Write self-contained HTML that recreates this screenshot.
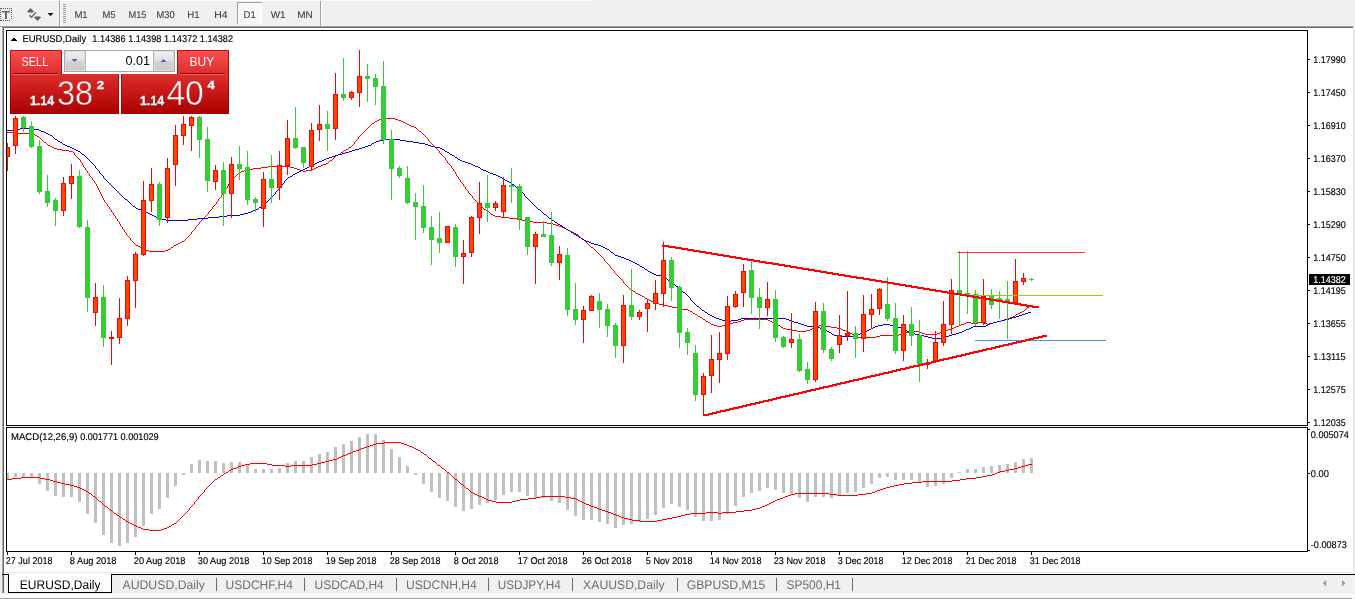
<!DOCTYPE html>
<html lang="en">
<head>
<meta charset="utf-8">
<title>EURUSD,Daily</title>
<style>
html,body{margin:0;padding:0;}
body{width:1355px;height:599px;overflow:hidden;background:#f0f0f0;font-family:"Liberation Sans", sans-serif;position:relative;}
#toolbar{position:absolute;left:0;top:0;width:1355px;height:28px;background:#f0f0f0;}
#toolbar svg,#tabs svg,#chartwrap svg{display:block;position:absolute;left:0;top:0;}
#chartwrap{position:absolute;left:0;top:0;width:1355px;height:599px;}
#white{position:absolute;left:4px;top:28px;width:1349px;height:546px;background:#fff;}
#lbar0{position:absolute;left:1px;top:28px;width:1px;height:565px;background:#f8f8f8;}
#lbar1{position:absolute;left:2px;top:27px;width:1px;height:547px;background:#a4a4a4;}
#lbar2{position:absolute;left:3px;top:27px;width:1px;height:547px;background:#696969;}
#rbar{position:absolute;left:1353px;top:27px;width:1px;height:546px;background:#e3e3e3;}
#tabs{position:absolute;left:0;top:572px;width:1355px;height:27px;}
</style>
</head>
<body>
<div id="toolbar">
<svg id="tbsvg" width="1355" height="28" viewBox="0 0 1355 28" font-family='"Liberation Sans", sans-serif' shape-rendering="crispEdges">
<rect x="0" y="0" width="594" height="1" fill="#fff"/>
<rect x="3" y="8" width="1" height="1" fill="#5a5a5a"/><rect x="5" y="8" width="1" height="1" fill="#5a5a5a"/><rect x="7" y="8" width="1" height="1" fill="#5a5a5a"/><rect x="9" y="8" width="1" height="1" fill="#5a5a5a"/><rect x="11" y="8" width="1" height="1" fill="#5a5a5a"/><rect x="11" y="10" width="1" height="1" fill="#5a5a5a"/><rect x="11" y="12" width="1" height="1" fill="#5a5a5a"/><rect x="11" y="14" width="1" height="1" fill="#5a5a5a"/><rect x="11" y="16" width="1" height="1" fill="#5a5a5a"/><rect x="11" y="18" width="1" height="1" fill="#5a5a5a"/><rect x="1" y="20" width="1" height="1" fill="#5a5a5a"/><rect x="3" y="20" width="1" height="1" fill="#5a5a5a"/><rect x="5" y="20" width="1" height="1" fill="#5a5a5a"/><rect x="7" y="20" width="1" height="1" fill="#5a5a5a"/><rect x="9" y="20" width="1" height="1" fill="#5a5a5a"/><rect x="0" y="10" width="1" height="1" fill="#5a5a5a"/><rect x="0" y="12" width="1" height="1" fill="#5a5a5a"/><rect x="0" y="14" width="1" height="1" fill="#5a5a5a"/><rect x="0" y="16" width="1" height="1" fill="#5a5a5a"/><rect x="0" y="18" width="1" height="1" fill="#5a5a5a"/><rect x="0" y="20" width="1" height="1" fill="#5a5a5a"/>
<rect x="2" y="11" width="8" height="1" fill="#646464"/><rect x="2" y="12" width="8" height="1" fill="#a8a8a8"/>
<rect x="5" y="12" width="2" height="7" fill="#646464"/>
<path d="M0 8 L1.5 8 L1.5 9 L0 9 Z" fill="#5a5a5a"/>
<g fill="#606060" shape-rendering="geometricPrecision">
<path d="M27 11.8 L30.5 8 L34 11.8 L32.6 12.6 L28.4 12.6 Z"/>
<path d="M34 17.2 L37.5 21 L41 17.2 L39.6 16.4 L35.4 16.4 Z"/>
<path d="M29.3 15.2 L31.5 17.4 L35.8 12.4" fill="none" stroke="#585858" stroke-width="1.3"/>
</g>
<path d="M47.5 13 L53.5 13 L50.5 16 Z" fill="#000" shape-rendering="geometricPrecision"/>
<rect x="59" y="1" width="1" height="25" fill="#a0a0a0"/>
<rect x="60" y="1" width="1" height="25" fill="#fff"/>
<rect x="63" y="4" width="3" height="1" fill="#a0a0a0"/><rect x="63" y="6" width="3" height="1" fill="#a0a0a0"/><rect x="63" y="8" width="3" height="1" fill="#a0a0a0"/><rect x="63" y="10" width="3" height="1" fill="#a0a0a0"/><rect x="63" y="12" width="3" height="1" fill="#a0a0a0"/><rect x="63" y="14" width="3" height="1" fill="#a0a0a0"/><rect x="63" y="16" width="3" height="1" fill="#a0a0a0"/><rect x="63" y="18" width="3" height="1" fill="#a0a0a0"/><rect x="63" y="20" width="3" height="1" fill="#a0a0a0"/><rect x="63" y="22" width="3" height="1" fill="#a0a0a0"/>
<rect x="237" y="2" width="25" height="22" fill="#f8f8f8"/>
<rect x="237" y="2" width="25" height="1" fill="#a0a0a0"/>
<rect x="237" y="2" width="1" height="22" fill="#a0a0a0"/>
<rect x="261" y="3" width="1" height="21" fill="#fff"/>
<rect x="238" y="23" width="24" height="1" fill="#fff"/>
<rect x="320" y="1" width="1" height="25" fill="#a0a0a0"/>
<rect x="321" y="1" width="1" height="25" fill="#fff"/>
<text x="74.4" y="18" font-size="9.9" fill="#3a3a3a" text-rendering="geometricPrecision" textLength="13.3" lengthAdjust="spacingAndGlyphs" stroke="#3a3a3a" stroke-width="0.08">M1</text><text x="102.5" y="18" font-size="9.9" fill="#3a3a3a" text-rendering="geometricPrecision" textLength="13.1" lengthAdjust="spacingAndGlyphs" stroke="#3a3a3a" stroke-width="0.08">M5</text><text x="128.4" y="18" font-size="9.9" fill="#3a3a3a" text-rendering="geometricPrecision" textLength="18.1" lengthAdjust="spacingAndGlyphs" stroke="#3a3a3a" stroke-width="0.08">M15</text><text x="156.5" y="18" font-size="9.9" fill="#3a3a3a" text-rendering="geometricPrecision" textLength="18.1" lengthAdjust="spacingAndGlyphs" stroke="#3a3a3a" stroke-width="0.08">M30</text><text x="187.3" y="18" font-size="9.9" fill="#3a3a3a" text-rendering="geometricPrecision" textLength="12.3" lengthAdjust="spacingAndGlyphs" stroke="#3a3a3a" stroke-width="0.08">H1</text><text x="214.2" y="18" font-size="9.9" fill="#3a3a3a" text-rendering="geometricPrecision" textLength="13.3" lengthAdjust="spacingAndGlyphs" stroke="#3a3a3a" stroke-width="0.08">H4</text><text x="243.5" y="18" font-size="9.9" fill="#3a3a3a" text-rendering="geometricPrecision" textLength="12.2" lengthAdjust="spacingAndGlyphs" stroke="#3a3a3a" stroke-width="0.08">D1</text><text x="270.7" y="18" font-size="9.9" fill="#3a3a3a" text-rendering="geometricPrecision" textLength="14.9" lengthAdjust="spacingAndGlyphs" stroke="#3a3a3a" stroke-width="0.08">W1</text><text x="297.2" y="18" font-size="9.9" fill="#3a3a3a" text-rendering="geometricPrecision" textLength="15.5" lengthAdjust="spacingAndGlyphs" stroke="#3a3a3a" stroke-width="0.08">MN</text>
<rect x="0" y="26" width="1353" height="1" fill="#a0a0a0"/>
<rect x="0" y="27" width="2" height="1" fill="#fff"/>
<rect x="2" y="27" width="1351" height="1" fill="#696969"/>
</svg>
</div>
<div id="chartwrap">
<div id="white"></div><div id="lbar0"></div><div id="lbar1"></div><div id="lbar2"></div><div id="rbar"></div>
<svg id="chart" width="1355" height="599" viewBox="0 0 1355 599" font-family='"Liberation Sans", sans-serif' shape-rendering="crispEdges">
<defs><clipPath id="mainclip"><rect x="7" y="31" width="1300" height="394"/></clipPath></defs>
<g id="ma" clip-path="url(#mainclip)">
<path d="M7 132v1M8 132v1M9 132v1M10 132v1M11 132v1M12 132v1M13 133v1M14 133v1M15 133v1M16 133v1M17 133v1M18 133v1M19 133v1M20 133v1M21 133v1M22 133v1M23 133v1M24 133v1M25 133v1M26 133v1M27 133v1M28 133v1M29 133v1M30 133v1M31 133v1M32 134v1M33 134v1M34 134v1M35 135v1M36 135v1M37 136v1M38 136v1M39 137v1M40 138v1M41 139v1M42 140v1M43 141v1M44 142v1M45 142v1M46 143v1M47 144v1M48 145v1M49 145v1M50 146v1M51 146v1M52 147v1M53 147v1M54 148v1M55 148v1M56 148v1M57 149v1M58 149v1M59 149v1M60 149v1M61 149v1M62 150v1M63 150v1M64 150v1M65 150v1M66 150v1M67 150v1M68 150v1M69 151v1M70 151v1M71 151v1M72 151v1M73 152v1M74 153v2M75 155v1M76 156v1M77 157v1M78 158v1M79 159v1M80 160v2M81 162v1M82 163v2M83 165v2M84 167v1M85 168v2M86 170v1M87 171v2M88 173v1M89 174v2M90 176v1M91 177v1M92 178v2M93 180v1M94 181v2M95 183v1M96 184v2M97 186v2M98 188v2M99 190v2M100 192v2M101 194v2M102 196v2M103 198v2M104 200v2M105 202v1M106 203v1M107 204v2M108 206v1M109 207v2M110 209v1M111 210v2M112 212v1M113 213v2M114 215v1M115 216v2M116 218v1M117 219v2M118 221v1M119 222v2M120 224v2M121 226v1M122 227v2M123 229v1M124 230v2M125 232v1M126 233v2M127 235v1M128 236v1M129 237v1M130 238v2M131 240v1M132 241v1M133 242v1M134 243v1M135 244v1M136 245v1M137 245v1M138 246v1M139 246v1M140 247v1M141 248v1M142 248v1M143 249v1M144 249v1M145 249v1M146 250v1M147 250v1M148 250v1M149 251v1M150 251v1M151 251v1M152 251v1M153 251v1M154 251v1M155 251v1M156 251v1M157 251v1M158 251v1M159 251v1M160 251v1M161 251v1M162 251v1M163 251v1M164 251v1M165 250v1M166 250v1M167 250v1M168 249v1M169 249v1M170 248v1M171 247v1M172 247v1M173 246v1M174 245v1M175 245v1M176 244v1M177 244v1M178 243v1M179 243v1M180 242v1M181 242v1M182 241v1M183 241v1M184 240v1M185 239v1M186 238v1M187 237v1M188 236v1M189 235v1M190 234v1M191 232v2M192 231v1M193 230v1M194 229v1M195 227v2M196 226v1M197 225v1M198 224v1M199 222v2M200 221v1M201 220v1M202 219v1M203 218v1M204 217v1M205 216v1M206 215v1M207 214v1M208 212v2M209 211v1M210 210v1M211 209v1M212 207v2M213 206v1M214 205v1M215 204v1M216 202v2M217 201v1M218 199v2M219 198v1M220 197v1M221 195v2M222 194v1M223 192v2M224 191v1M225 189v2M226 188v1M227 186v2M228 184v2M229 183v1M230 181v2M231 180v1M232 179v1M233 178v1M234 177v1M235 176v1M236 175v1M237 174v1M238 173v1M239 172v1M240 172v1M241 171v1M242 171v1M243 171v1M244 170v1M245 170v1M246 170v1M247 169v1M248 169v1M249 169v1M250 169v1M251 169v1M252 169v1M253 168v1M254 168v1M255 168v1M256 168v1M257 168v1M258 168v1M259 168v1M260 168v1M261 167v1M262 167v1M263 167v1M264 167v1M265 167v1M266 167v1M267 167v1M268 166v1M269 166v1M270 166v1M271 166v1M272 166v1M273 166v1M274 166v1M275 166v1M276 166v1M277 166v1M278 166v1M279 166v1M280 166v1M281 166v1M282 166v1M283 166v1M284 166v1M285 166v1M286 166v1M287 166v1M288 166v1M289 166v1M290 167v1M291 167v1M292 167v1M293 167v1M294 168v1M295 168v1M296 168v1M297 169v1M298 169v1M299 169v1M300 170v1M301 170v1M302 170v1M303 171v1M304 171v1M305 171v1M306 170v1M307 170v1M308 170v1M309 170v1M310 170v1M311 170v1M312 169v1M313 169v1M314 168v1M315 168v1M316 167v1M317 167v1M318 166v1M319 166v1M320 166v1M321 165v1M322 165v1M323 164v1M324 164v1M325 164v1M326 163v1M327 163v1M328 162v1M329 161v1M330 160v1M331 160v1M332 159v1M333 158v1M334 157v1M335 156v1M336 155v1M337 155v1M338 154v1M339 154v1M340 153v1M341 152v1M342 152v1M343 151v1M344 150v1M345 150v1M346 149v1M347 149v1M348 148v1M349 147v1M350 147v1M351 146v1M352 145v1M353 144v1M354 142v2M355 141v1M356 140v1M357 139v1M358 137v2M359 136v1M360 135v1M361 134v1M362 133v1M363 132v1M364 131v1M365 130v1M366 129v1M367 128v1M368 127v1M369 126v1M370 125v1M371 124v1M372 123v1M373 123v1M374 122v1M375 121v1M376 121v1M377 120v1M378 120v1M379 119v1M380 119v1M381 119v1M382 118v1M383 118v1M384 118v1M385 118v1M386 118v1M387 118v1M388 118v1M389 118v1M390 118v1M391 118v1M392 118v1M393 118v1M394 118v1M395 119v1M396 119v1M397 119v1M398 120v1M399 120v1M400 120v1M401 121v1M402 121v1M403 122v1M404 122v1M405 123v1M406 123v1M407 124v1M408 124v1M409 125v1M410 125v1M411 126v1M412 126v1M413 126v1M414 127v1M415 127v1M416 128v1M417 129v1M418 130v1M419 131v1M420 131v1M421 132v1M422 133v1M423 134v1M424 135v1M425 136v1M426 137v1M427 138v1M428 139v2M429 141v1M430 142v1M431 143v1M432 144v1M433 145v1M434 146v1M435 147v1M436 148v1M437 149v1M438 150v1M439 151v2M440 153v1M441 154v1M442 155v1M443 156v1M444 157v1M445 158v2M446 160v1M447 161v2M448 163v1M449 164v1M450 165v1M451 166v2M452 168v1M453 169v2M454 171v1M455 172v2M456 174v2M457 176v1M458 177v2M459 179v1M460 180v2M461 182v1M462 183v1M463 184v2M464 186v1M465 187v2M466 189v1M467 190v1M468 191v2M469 193v1M470 194v1M471 195v1M472 196v2M473 198v1M474 199v1M475 200v1M476 201v1M477 202v1M478 203v1M479 204v1M480 205v1M481 206v1M482 207v1M483 208v1M484 209v1M485 209v1M486 210v1M487 211v1M488 211v1M489 212v1M490 213v1M491 214v1M492 214v1M493 215v1M494 215v1M495 216v1M496 216v1M497 216v1M498 216v1M499 216v1M500 216v1M501 217v1M502 217v1M503 217v1M504 217v1M505 217v1M506 217v1M507 217v1M508 217v1M509 218v1M510 218v1M511 218v1M512 218v1M513 218v1M514 218v1M515 218v1M516 218v1M517 219v1M518 219v1M519 219v1M520 219v1M521 219v1M522 220v1M523 220v1M524 220v1M525 220v1M526 220v1M527 221v1M528 221v1M529 221v1M530 221v1M531 221v1M532 221v1M533 222v1M534 222v1M535 222v1M536 222v1M537 222v1M538 222v1M539 222v1M540 222v1M541 222v1M542 222v1M543 222v1M544 222v1M545 222v1M546 222v1M547 223v1M548 223v1M549 223v1M550 223v1M551 223v1M552 223v1M553 224v1M554 224v1M555 224v1M556 225v1M557 225v1M558 225v1M559 226v1M560 226v1M561 226v1M562 227v1M563 227v1M564 228v1M565 228v1M566 229v1M567 229v1M568 230v1M569 230v1M570 231v1M571 231v1M572 232v1M573 232v1M574 233v1M575 233v1M576 234v1M577 234v1M578 235v1M579 236v1M580 237v1M581 238v1M582 238v1M583 239v1M584 240v1M585 241v1M586 242v1M587 243v1M588 244v1M589 245v1M590 246v1M591 247v1M592 247v1M593 248v1M594 249v1M595 250v1M596 251v1M597 252v1M598 253v1M599 254v1M600 255v1M601 256v1M602 257v1M603 258v1M604 259v2M605 261v1M606 262v1M607 263v1M608 264v1M609 265v1M610 266v2M611 268v1M612 269v1M613 270v1M614 271v2M615 273v1M616 274v1M617 275v1M618 276v1M619 277v1M620 278v1M621 279v1M622 280v1M623 281v2M624 283v1M625 284v1M626 285v1M627 286v1M628 287v1M629 288v1M630 289v1M631 290v1M632 290v1M633 291v1M634 291v1M635 292v1M636 293v1M637 293v1M638 294v1M639 294v1M640 295v1M641 295v1M642 296v1M643 296v1M644 297v1M645 298v1M646 298v1M647 299v1M648 299v1M649 300v1M650 300v1M651 301v1M652 301v1M653 302v1M654 302v1M655 303v1M656 303v1M657 303v1M658 303v1M659 304v1M660 304v1M661 304v1M662 304v1M663 304v1M664 305v1M665 305v1M666 305v1M667 305v1M668 306v1M669 306v1M670 306v1M671 306v1M672 307v1M673 307v1M674 307v1M675 307v1M676 307v1M677 308v1M678 308v1M679 308v1M680 308v1M681 308v1M682 309v1M683 309v1M684 309v1M685 309v1M686 309v1M687 309v1M688 310v1M689 310v1M690 311v1M691 311v1M692 312v1M693 313v1M694 313v1M695 314v1M696 314v1M697 315v1M698 316v1M699 316v1M700 317v1M701 317v1M702 318v1M703 319v1M704 319v1M705 320v1M706 321v1M707 321v1M708 322v1M709 322v1M710 323v1M711 324v1M712 324v1M713 324v1M714 325v1M715 325v1M716 325v1M717 326v1M718 326v1M719 326v1M720 326v1M721 326v1M722 325v1M723 325v1M724 325v1M725 324v1M726 324v1M727 323v1M728 323v1M729 323v1M730 323v1M731 323v1M732 323v1M733 322v1M734 322v1M735 322v1M736 322v1M737 322v1M738 321v1M739 321v1M740 321v1M741 320v1M742 320v1M743 320v1M744 319v1M745 319v1M746 319v1M747 319v1M748 319v1M749 319v1M750 319v1M751 319v1M752 319v1M753 319v1M754 319v1M755 319v1M756 319v1M757 319v1M758 319v1M759 319v1M760 319v1M761 319v1M762 319v1M763 319v1M764 319v1M765 319v1M766 319v1M767 319v1M768 320v1M769 320v1M770 321v1M771 321v1M772 322v1M773 322v1M774 323v1M775 323v1M776 324v1M777 324v1M778 325v1M779 325v1M780 326v1M781 327v1M782 327v1M783 328v1M784 328v1M785 328v1M786 329v1M787 329v1M788 329v1M789 329v1M790 329v1M791 329v1M792 330v1M793 330v1M794 330v1M795 330v1M796 330v1M797 331v1M798 331v1M799 331v1M800 331v1M801 331v1M802 331v1M803 331v1M804 331v1M805 331v1M806 330v1M807 330v1M808 330v1M809 330v1M810 329v1M811 329v1M812 328v1M813 328v1M814 328v1M815 327v1M816 327v1M817 326v1M818 326v1M819 325v1M820 325v1M821 325v1M822 325v1M823 325v1M824 325v1M825 326v1M826 326v1M827 326v1M828 326v1M829 326v1M830 326v1M831 327v1M832 327v1M833 327v1M834 327v1M835 327v1M836 327v1M837 328v1M838 328v1M839 328v1M840 328v1M841 329v1M842 329v1M843 330v1M844 330v1M845 330v1M846 331v1M847 331v1M848 332v1M849 332v1M850 333v1M851 333v1M852 334v1M853 334v1M854 335v1M855 335v1M856 336v1M857 336v1M858 337v1M859 337v1M860 337v1M861 338v1M862 338v1M863 338v1M864 338v1M865 338v1M866 337v1M867 337v1M868 337v1M869 337v1M870 337v1M871 337v1M872 337v1M873 337v1M874 337v1M875 337v1M876 336v1M877 336v1M878 336v1M879 336v1M880 335v1M881 335v1M882 335v1M883 335v1M884 335v1M885 335v1M886 335v1M887 335v1M888 335v1M889 335v1M890 335v1M891 335v1M892 335v1M893 335v1M894 335v1M895 335v1M896 335v1M897 335v1M898 335v1M899 334v1M900 334v1M901 334v1M902 333v1M903 333v1M904 333v1M905 332v1M906 332v1M907 332v1M908 332v1M909 332v1M910 332v1M911 332v1M912 331v1M913 331v1M914 331v1M915 331v1M916 331v1M917 331v1M918 331v1M919 332v1M920 332v1M921 332v1M922 333v1M923 333v1M924 333v1M925 334v1M926 334v1M927 334v1M928 334v1M929 334v1M930 334v1M931 334v1M932 334v1M933 334v1M934 334v1M935 334v1M936 334v1M937 333v1M938 333v1M939 333v1M940 332v1M941 332v1M942 332v1M943 331v1M944 331v1M945 330v1M946 330v1M947 330v1M948 329v1M949 329v1M950 329v1M951 328v1M952 328v1M953 328v1M954 327v1M955 327v1M956 326v1M957 326v1M958 326v1M959 325v1M960 325v1M961 324v1M962 324v1M963 324v1M964 323v1M965 323v1M966 322v1M967 322v1M968 322v1M969 322v1M970 322v1M971 323v1M972 323v1M973 323v1M974 323v1M975 323v1M976 323v1M977 323v1M978 322v1M979 322v1M980 322v1M981 322v1M982 322v1M983 322v1M984 323v1M985 323v1M986 323v1M987 324v1M988 324v1M989 323v1M990 323v1M991 323v1M992 323v1M993 322v1M994 322v1M995 322v1M996 322v1M997 321v1M998 321v1M999 321v1M1000 321v1M1001 320v1M1002 320v1M1003 320v1M1004 319v1M1005 319v1M1006 319v1M1007 318v1M1008 318v1M1009 318v1M1010 317v1M1011 317v1M1012 317v1M1013 316v1M1014 316v1M1015 315v1M1016 314v1M1017 314v1M1018 313v1M1019 313v1M1020 312v1M1021 312v1M1022 311v1M1023 311v1M1024 310v1M1025 309v1M1026 308v1M1027 307v1M1028 307v1" fill="none" stroke="#ff0000" stroke-width="1" transform="translate(0.5 0)" shape-rendering="crispEdges"/>
<path d="M7 130v1M8 130v1M9 130v1M10 130v1M11 130v1M12 130v1M13 130v1M14 130v1M15 130v1M16 129v1M17 129v1M18 129v1M19 129v1M20 128v1M21 128v1M22 128v1M23 128v1M24 128v1M25 128v1M26 128v1M27 128v1M28 128v1M29 128v1M30 128v1M31 128v1M32 129v1M33 129v1M34 129v1M35 129v1M36 129v1M37 129v1M38 129v1M39 130v1M40 130v1M41 131v1M42 131v1M43 131v1M44 132v1M45 132v1M46 133v1M47 133v1M48 134v1M49 134v1M50 135v1M51 135v1M52 136v1M53 137v1M54 138v1M55 139v1M56 139v1M57 140v1M58 141v1M59 141v1M60 142v1M61 142v1M62 143v1M63 144v1M64 144v1M65 145v1M66 145v1M67 146v1M68 146v1M69 146v1M70 147v1M71 147v1M72 148v1M73 148v1M74 149v1M75 149v1M76 150v1M77 150v1M78 151v1M79 151v1M80 152v1M81 153v1M82 154v1M83 154v1M84 155v1M85 156v1M86 157v1M87 158v1M88 159v1M89 160v1M90 161v1M91 162v1M92 163v1M93 164v1M94 165v1M95 166v2M96 168v1M97 169v1M98 170v1M99 171v2M100 173v1M101 174v1M102 175v1M103 176v2M104 178v1M105 179v1M106 180v1M107 181v1M108 182v1M109 183v1M110 184v1M111 185v1M112 186v1M113 187v1M114 188v1M115 189v1M116 190v1M117 191v1M118 192v1M119 193v1M120 194v1M121 195v1M122 196v1M123 197v1M124 198v1M125 199v1M126 199v1M127 200v1M128 201v1M129 202v1M130 203v1M131 204v1M132 205v1M133 206v1M134 206v1M135 207v1M136 208v1M137 208v1M138 209v1M139 209v1M140 209v1M141 210v1M142 210v1M143 211v1M144 211v1M145 211v1M146 212v1M147 212v1M148 213v1M149 213v1M150 214v1M151 214v1M152 215v1M153 215v1M154 216v1M155 216v1M156 217v1M157 217v1M158 218v1M159 218v1M160 218v1M161 219v1M162 219v1M163 219v1M164 219v1M165 219v1M166 220v1M167 220v1M168 220v1M169 220v1M170 220v1M171 220v1M172 220v1M173 220v1M174 220v1M175 220v1M176 220v1M177 220v1M178 220v1M179 220v1M180 220v1M181 220v1M182 220v1M183 220v1M184 220v1M185 220v1M186 220v1M187 220v1M188 219v1M189 219v1M190 219v1M191 219v1M192 219v1M193 219v1M194 219v1M195 219v1M196 219v1M197 218v1M198 218v1M199 218v1M200 218v1M201 218v1M202 218v1M203 218v1M204 218v1M205 218v1M206 218v1M207 218v1M208 217v1M209 217v1M210 217v1M211 217v1M212 217v1M213 217v1M214 217v1M215 217v1M216 217v1M217 217v1M218 217v1M219 216v1M220 216v1M221 216v1M222 216v1M223 216v1M224 216v1M225 216v1M226 216v1M227 215v1M228 215v1M229 215v1M230 215v1M231 215v1M232 215v1M233 215v1M234 215v1M235 215v1M236 215v1M237 215v1M238 215v1M239 215v1M240 214v1M241 214v1M242 214v1M243 214v1M244 213v1M245 213v1M246 213v1M247 213v1M248 212v1M249 212v1M250 212v1M251 211v1M252 211v1M253 210v1M254 210v1M255 210v1M256 209v1M257 209v1M258 208v1M259 207v1M260 207v1M261 206v1M262 205v1M263 205v1M264 204v1M265 203v1M266 202v1M267 201v1M268 200v1M269 199v1M270 198v1M271 197v1M272 196v1M273 195v1M274 194v1M275 192v2M276 191v1M277 190v1M278 189v1M279 187v2M280 186v1M281 185v1M282 184v1M283 183v1M284 181v2M285 180v1M286 179v1M287 178v1M288 177v1M289 177v1M290 176v1M291 176v1M292 175v1M293 174v1M294 174v1M295 173v1M296 173v1M297 172v1M298 172v1M299 171v1M300 171v1M301 170v1M302 170v1M303 169v1M304 169v1M305 168v1M306 168v1M307 167v1M308 167v1M309 166v1M310 166v1M311 165v1M312 165v1M313 164v1M314 164v1M315 163v1M316 163v1M317 162v1M318 162v1M319 161v1M320 161v1M321 161v1M322 160v1M323 160v1M324 159v1M325 159v1M326 158v1M327 158v1M328 158v1M329 157v1M330 157v1M331 157v1M332 156v1M333 156v1M334 156v1M335 155v1M336 155v1M337 155v1M338 154v1M339 154v1M340 154v1M341 154v1M342 153v1M343 153v1M344 153v1M345 152v1M346 152v1M347 152v1M348 152v1M349 151v1M350 151v1M351 151v1M352 150v1M353 150v1M354 150v1M355 149v1M356 149v1M357 149v1M358 149v1M359 148v1M360 148v1M361 148v1M362 147v1M363 147v1M364 147v1M365 146v1M366 146v1M367 146v1M368 145v1M369 145v1M370 145v1M371 144v1M372 143v1M373 143v1M374 142v1M375 142v1M376 141v1M377 141v1M378 141v1M379 140v1M380 140v1M381 140v1M382 140v1M383 140v1M384 139v1M385 139v1M386 139v1M387 139v1M388 139v1M389 139v1M390 139v1M391 139v1M392 139v1M393 139v1M394 139v1M395 139v1M396 139v1M397 139v1M398 139v1M399 139v1M400 140v1M401 140v1M402 140v1M403 140v1M404 140v1M405 140v1M406 141v1M407 141v1M408 141v1M409 141v1M410 141v1M411 141v1M412 141v1M413 142v1M414 142v1M415 142v1M416 142v1M417 142v1M418 142v1M419 143v1M420 143v1M421 143v1M422 143v1M423 143v1M424 143v1M425 144v1M426 144v1M427 144v1M428 145v1M429 145v1M430 145v1M431 146v1M432 146v1M433 146v1M434 146v1M435 147v1M436 147v1M437 147v1M438 147v1M439 147v1M440 148v1M441 148v1M442 149v1M443 149v1M444 150v1M445 151v1M446 151v1M447 152v1M448 152v1M449 153v1M450 154v1M451 154v1M452 155v1M453 155v1M454 156v1M455 157v1M456 157v1M457 158v1M458 159v1M459 159v1M460 160v1M461 160v1M462 161v1M463 161v1M464 161v1M465 162v1M466 162v1M467 162v1M468 163v1M469 163v1M470 163v1M471 164v1M472 164v1M473 165v1M474 165v1M475 166v1M476 166v1M477 166v1M478 167v1M479 167v1M480 168v1M481 169v1M482 169v1M483 170v1M484 170v1M485 170v1M486 171v1M487 171v1M488 172v1M489 172v1M490 173v1M491 173v1M492 173v1M493 174v1M494 174v1M495 174v1M496 175v1M497 175v1M498 176v1M499 176v1M500 177v1M501 177v1M502 178v1M503 179v1M504 179v1M505 180v1M506 180v1M507 181v1M508 181v1M509 182v1M510 182v1M511 183v1M512 184v1M513 184v1M514 185v1M515 186v1M516 187v1M517 188v1M518 188v1M519 189v1M520 190v1M521 191v1M522 192v1M523 193v1M524 194v2M525 196v1M526 197v1M527 198v1M528 199v1M529 200v1M530 201v1M531 202v1M532 203v1M533 204v1M534 205v1M535 206v1M536 207v1M537 208v1M538 209v1M539 209v1M540 210v1M541 211v1M542 212v1M543 213v1M544 214v1M545 214v1M546 215v1M547 216v1M548 217v1M549 218v1M550 218v1M551 219v1M552 220v1M553 220v1M554 221v1M555 222v1M556 222v1M557 223v1M558 224v1M559 224v1M560 225v1M561 225v1M562 226v1M563 227v1M564 227v1M565 228v1M566 229v1M567 229v1M568 230v1M569 230v1M570 231v1M571 232v1M572 232v1M573 233v1M574 234v1M575 234v1M576 235v1M577 235v1M578 236v1M579 237v1M580 237v1M581 238v1M582 239v1M583 239v1M584 240v1M585 240v1M586 241v1M587 241v1M588 241v1M589 242v1M590 242v1M591 243v1M592 243v1M593 243v1M594 244v1M595 244v1M596 244v1M597 244v1M598 245v1M599 245v1M600 245v1M601 246v1M602 246v1M603 247v1M604 247v1M605 248v1M606 248v1M607 249v1M608 249v1M609 250v1M610 251v1M611 252v1M612 252v1M613 253v1M614 254v1M615 255v1M616 255v1M617 255v1M618 256v1M619 256v1M620 256v1M621 257v1M622 257v1M623 257v1M624 258v1M625 258v1M626 259v1M627 259v1M628 259v1M629 260v1M630 260v1M631 261v1M632 261v1M633 262v1M634 262v1M635 263v1M636 263v1M637 264v1M638 264v1M639 265v1M640 266v1M641 266v1M642 267v1M643 267v1M644 268v1M645 269v1M646 269v1M647 270v1M648 271v1M649 271v1M650 272v1M651 272v1M652 273v1M653 273v1M654 274v1M655 274v1M656 275v1M657 275v1M658 275v1M659 275v1M660 275v1M661 275v1M662 276v1M663 276v1M664 276v1M665 277v1M666 278v1M667 279v1M668 280v1M669 280v1M670 281v1M671 282v1M672 283v1M673 284v1M674 284v1M675 285v1M676 286v1M677 286v1M678 287v1M679 288v1M680 289v1M681 290v1M682 291v1M683 292v1M684 292v1M685 293v1M686 294v1M687 295v1M688 296v1M689 297v1M690 298v2M691 300v1M692 301v1M693 302v1M694 303v1M695 304v1M696 305v1M697 306v1M698 306v1M699 307v1M700 308v1M701 309v1M702 310v1M703 310v1M704 311v1M705 312v1M706 312v1M707 313v1M708 314v1M709 314v1M710 315v1M711 315v1M712 316v1M713 316v1M714 317v1M715 317v1M716 318v1M717 318v1M718 318v1M719 319v1M720 319v1M721 319v1M722 320v1M723 320v1M724 320v1M725 320v1M726 320v1M727 321v1M728 321v1M729 321v1M730 321v1M731 320v1M732 320v1M733 320v1M734 320v1M735 320v1M736 320v1M737 320v1M738 319v1M739 319v1M740 319v1M741 318v1M742 318v1M743 318v1M744 318v1M745 318v1M746 318v1M747 318v1M748 318v1M749 318v1M750 318v1M751 318v1M752 318v1M753 318v1M754 318v1M755 318v1M756 318v1M757 318v1M758 318v1M759 318v1M760 318v1M761 318v1M762 318v1M763 318v1M764 318v1M765 318v1M766 318v1M767 318v1M768 318v1M769 318v1M770 318v1M771 318v1M772 318v1M773 318v1M774 318v1M775 318v1M776 318v1M777 318v1M778 318v1M779 318v1M780 318v1M781 318v1M782 318v1M783 318v1M784 318v1M785 318v1M786 319v1M787 319v1M788 319v1M789 320v1M790 320v1M791 321v1M792 321v1M793 321v1M794 322v1M795 322v1M796 322v1M797 322v1M798 323v1M799 323v1M800 323v1M801 324v1M802 324v1M803 324v1M804 325v1M805 325v1M806 325v1M807 326v1M808 326v1M809 326v1M810 326v1M811 326v1M812 326v1M813 326v1M814 326v1M815 326v1M816 326v1M817 326v1M818 327v1M819 327v1M820 328v1M821 328v1M822 329v1M823 329v1M824 329v1M825 330v1M826 330v1M827 331v1M828 331v1M829 332v1M830 332v1M831 333v1M832 334v1M833 334v1M834 335v1M835 335v1M836 335v1M837 335v1M838 335v1M839 335v1M840 336v1M841 336v1M842 336v1M843 336v1M844 336v1M845 336v1M846 336v1M847 336v1M848 336v1M849 336v1M850 336v1M851 336v1M852 336v1M853 335v1M854 335v1M855 335v1M856 335v1M857 334v1M858 334v1M859 334v1M860 333v1M861 333v1M862 333v1M863 332v1M864 332v1M865 331v1M866 331v1M867 330v1M868 330v1M869 329v1M870 329v1M871 328v1M872 328v1M873 327v1M874 327v1M875 326v1M876 326v1M877 326v1M878 325v1M879 325v1M880 325v1M881 325v1M882 325v1M883 324v1M884 324v1M885 324v1M886 324v1M887 324v1M888 324v1M889 324v1M890 325v1M891 325v1M892 325v1M893 325v1M894 325v1M895 326v1M896 326v1M897 326v1M898 327v1M899 327v1M900 327v1M901 328v1M902 328v1M903 329v1M904 329v1M905 330v1M906 330v1M907 331v1M908 331v1M909 331v1M910 332v1M911 332v1M912 332v1M913 333v1M914 333v1M915 334v1M916 334v1M917 334v1M918 334v1M919 335v1M920 335v1M921 335v1M922 335v1M923 335v1M924 336v1M925 336v1M926 336v1M927 336v1M928 337v1M929 337v1M930 337v1M931 337v1M932 338v1M933 338v1M934 338v1M935 338v1M936 338v1M937 338v1M938 338v1M939 338v1M940 338v1M941 338v1M942 337v1M943 337v1M944 337v1M945 336v1M946 336v1M947 336v1M948 336v1M949 335v1M950 335v1M951 335v1M952 334v1M953 334v1M954 334v1M955 334v1M956 333v1M957 333v1M958 333v1M959 332v1M960 332v1M961 332v1M962 331v1M963 331v1M964 330v1M965 330v1M966 329v1M967 329v1M968 329v1M969 328v1M970 328v1M971 327v1M972 327v1M973 326v1M974 326v1M975 326v1M976 326v1M977 326v1M978 326v1M979 326v1M980 326v1M981 326v1M982 326v1M983 326v1M984 326v1M985 326v1M986 325v1M987 325v1M988 324v1M989 324v1M990 323v1M991 323v1M992 323v1M993 322v1M994 322v1M995 322v1M996 322v1M997 321v1M998 321v1M999 321v1M1000 321v1M1001 320v1M1002 320v1M1003 320v1M1004 320v1M1005 319v1M1006 319v1M1007 319v1M1008 319v1M1009 318v1M1010 318v1M1011 318v1M1012 317v1M1013 317v1M1014 317v1M1015 317v1M1016 316v1M1017 316v1M1018 316v1M1019 315v1M1020 315v1M1021 315v1M1022 314v1M1023 314v1M1024 314v1M1025 313v1M1026 313v1M1027 313v1M1028 312v1M1029 312v1M1030 312v1" fill="none" stroke="#0000e0" stroke-width="1" transform="translate(0.5 0)" shape-rendering="crispEdges"/>
</g>
<g id="candles" clip-path="url(#mainclip)">
<rect x="7" y="143" width="1" height="28" fill="#f00"/>
<rect x="5" y="147" width="5" height="10" fill="#f00"/>
<rect x="6" y="148" width="3" height="8" fill="#ff4500"/>
<rect x="15" y="116" width="1" height="38" fill="#f00"/>
<rect x="13" y="118" width="5" height="28" fill="#f00"/>
<rect x="14" y="119" width="3" height="26" fill="#ff4500"/>
<rect x="23" y="116" width="1" height="16" fill="#32cd32"/>
<rect x="21" y="117" width="5" height="11" fill="#32cd32"/>
<rect x="31" y="121" width="1" height="27" fill="#32cd32"/>
<rect x="29" y="126" width="5" height="21" fill="#32cd32"/>
<rect x="39" y="140" width="1" height="54" fill="#32cd32"/>
<rect x="37" y="146" width="5" height="46" fill="#32cd32"/>
<rect x="47" y="175" width="1" height="32" fill="#32cd32"/>
<rect x="45" y="191" width="5" height="12" fill="#32cd32"/>
<rect x="55" y="198" width="1" height="28" fill="#32cd32"/>
<rect x="53" y="200" width="5" height="11" fill="#32cd32"/>
<rect x="63" y="177" width="1" height="39" fill="#f00"/>
<rect x="61" y="183" width="5" height="28" fill="#f00"/>
<rect x="62" y="184" width="3" height="26" fill="#ff4500"/>
<rect x="71" y="164" width="1" height="35" fill="#f00"/>
<rect x="69" y="176" width="5" height="8" fill="#f00"/>
<rect x="70" y="177" width="3" height="6" fill="#ff4500"/>
<rect x="79" y="170" width="1" height="58" fill="#32cd32"/>
<rect x="77" y="176" width="5" height="51" fill="#32cd32"/>
<rect x="87" y="220" width="1" height="92" fill="#32cd32"/>
<rect x="85" y="227" width="5" height="71" fill="#32cd32"/>
<rect x="95" y="283" width="1" height="43" fill="#f00"/>
<rect x="93" y="297" width="5" height="16" fill="#f00"/>
<rect x="94" y="298" width="3" height="14" fill="#ff4500"/>
<rect x="103" y="285" width="1" height="62" fill="#32cd32"/>
<rect x="101" y="297" width="5" height="41" fill="#32cd32"/>
<rect x="111" y="331" width="1" height="34" fill="#f00"/>
<rect x="109" y="337" width="5" height="2" fill="#f00"/>
<rect x="119" y="298" width="1" height="46" fill="#f00"/>
<rect x="117" y="318" width="5" height="20" fill="#f00"/>
<rect x="118" y="319" width="3" height="18" fill="#ff4500"/>
<rect x="127" y="276" width="1" height="50" fill="#f00"/>
<rect x="125" y="280" width="5" height="39" fill="#f00"/>
<rect x="126" y="281" width="3" height="37" fill="#ff4500"/>
<rect x="135" y="252" width="1" height="56" fill="#f00"/>
<rect x="133" y="254" width="5" height="27" fill="#f00"/>
<rect x="134" y="255" width="3" height="25" fill="#ff4500"/>
<rect x="143" y="181" width="1" height="75" fill="#f00"/>
<rect x="141" y="200" width="5" height="55" fill="#f00"/>
<rect x="142" y="201" width="3" height="53" fill="#ff4500"/>
<rect x="151" y="168" width="1" height="44" fill="#f00"/>
<rect x="149" y="184" width="5" height="17" fill="#f00"/>
<rect x="150" y="185" width="3" height="15" fill="#ff4500"/>
<rect x="159" y="182" width="1" height="44" fill="#32cd32"/>
<rect x="157" y="184" width="5" height="36" fill="#32cd32"/>
<rect x="167" y="158" width="1" height="65" fill="#f00"/>
<rect x="165" y="168" width="5" height="50" fill="#f00"/>
<rect x="166" y="169" width="3" height="48" fill="#ff4500"/>
<rect x="175" y="125" width="1" height="61" fill="#f00"/>
<rect x="173" y="135" width="5" height="30" fill="#f00"/>
<rect x="174" y="136" width="3" height="28" fill="#ff4500"/>
<rect x="183" y="116" width="1" height="29" fill="#f00"/>
<rect x="181" y="124" width="5" height="12" fill="#f00"/>
<rect x="182" y="125" width="3" height="10" fill="#ff4500"/>
<rect x="191" y="116" width="1" height="35" fill="#f00"/>
<rect x="189" y="117" width="5" height="9" fill="#f00"/>
<rect x="190" y="118" width="3" height="7" fill="#ff4500"/>
<rect x="199" y="116" width="1" height="42" fill="#32cd32"/>
<rect x="197" y="117" width="5" height="23" fill="#32cd32"/>
<rect x="207" y="127" width="1" height="65" fill="#32cd32"/>
<rect x="205" y="139" width="5" height="42" fill="#32cd32"/>
<rect x="215" y="165" width="1" height="25" fill="#f00"/>
<rect x="213" y="170" width="5" height="12" fill="#f00"/>
<rect x="214" y="171" width="3" height="10" fill="#ff4500"/>
<rect x="223" y="162" width="1" height="64" fill="#32cd32"/>
<rect x="221" y="170" width="5" height="24" fill="#32cd32"/>
<rect x="231" y="157" width="1" height="61" fill="#f00"/>
<rect x="229" y="164" width="5" height="30" fill="#f00"/>
<rect x="230" y="165" width="3" height="28" fill="#ff4500"/>
<rect x="239" y="146" width="1" height="34" fill="#32cd32"/>
<rect x="237" y="164" width="5" height="5" fill="#32cd32"/>
<rect x="247" y="151" width="1" height="54" fill="#32cd32"/>
<rect x="245" y="167" width="5" height="33" fill="#32cd32"/>
<rect x="255" y="197" width="1" height="15" fill="#32cd32"/>
<rect x="253" y="199" width="5" height="4" fill="#32cd32"/>
<rect x="263" y="172" width="1" height="55" fill="#f00"/>
<rect x="261" y="179" width="5" height="30" fill="#f00"/>
<rect x="262" y="180" width="3" height="28" fill="#ff4500"/>
<rect x="271" y="155" width="1" height="48" fill="#32cd32"/>
<rect x="269" y="179" width="5" height="9" fill="#32cd32"/>
<rect x="279" y="151" width="1" height="49" fill="#f00"/>
<rect x="277" y="165" width="5" height="23" fill="#f00"/>
<rect x="278" y="166" width="3" height="21" fill="#ff4500"/>
<rect x="287" y="120" width="1" height="55" fill="#f00"/>
<rect x="285" y="138" width="5" height="28" fill="#f00"/>
<rect x="286" y="139" width="3" height="26" fill="#ff4500"/>
<rect x="295" y="107" width="1" height="42" fill="#32cd32"/>
<rect x="293" y="138" width="5" height="10" fill="#32cd32"/>
<rect x="303" y="147" width="1" height="21" fill="#32cd32"/>
<rect x="301" y="147" width="5" height="16" fill="#32cd32"/>
<rect x="311" y="123" width="1" height="48" fill="#f00"/>
<rect x="309" y="130" width="5" height="37" fill="#f00"/>
<rect x="310" y="131" width="3" height="35" fill="#ff4500"/>
<rect x="319" y="105" width="1" height="36" fill="#f00"/>
<rect x="317" y="124" width="5" height="6" fill="#f00"/>
<rect x="318" y="125" width="3" height="4" fill="#ff4500"/>
<rect x="327" y="111" width="1" height="40" fill="#32cd32"/>
<rect x="325" y="124" width="5" height="5" fill="#32cd32"/>
<rect x="335" y="73" width="1" height="67" fill="#f00"/>
<rect x="333" y="94" width="5" height="35" fill="#f00"/>
<rect x="334" y="95" width="3" height="33" fill="#ff4500"/>
<rect x="343" y="58" width="1" height="43" fill="#32cd32"/>
<rect x="341" y="94" width="5" height="4" fill="#32cd32"/>
<rect x="351" y="91" width="1" height="9" fill="#f00"/>
<rect x="349" y="92" width="5" height="6" fill="#f00"/>
<rect x="350" y="93" width="3" height="4" fill="#ff4500"/>
<rect x="359" y="50" width="1" height="57" fill="#f00"/>
<rect x="357" y="76" width="5" height="17" fill="#f00"/>
<rect x="358" y="77" width="3" height="15" fill="#ff4500"/>
<rect x="367" y="64" width="1" height="38" fill="#32cd32"/>
<rect x="365" y="76" width="5" height="3" fill="#32cd32"/>
<rect x="375" y="74" width="1" height="31" fill="#32cd32"/>
<rect x="373" y="78" width="5" height="9" fill="#32cd32"/>
<rect x="383" y="61" width="1" height="83" fill="#32cd32"/>
<rect x="381" y="86" width="5" height="54" fill="#32cd32"/>
<rect x="391" y="130" width="1" height="70" fill="#32cd32"/>
<rect x="389" y="139" width="5" height="30" fill="#32cd32"/>
<rect x="399" y="166" width="1" height="12" fill="#32cd32"/>
<rect x="397" y="168" width="5" height="8" fill="#32cd32"/>
<rect x="407" y="166" width="1" height="38" fill="#32cd32"/>
<rect x="405" y="178" width="5" height="25" fill="#32cd32"/>
<rect x="415" y="193" width="1" height="47" fill="#32cd32"/>
<rect x="413" y="202" width="5" height="5" fill="#32cd32"/>
<rect x="423" y="185" width="1" height="48" fill="#32cd32"/>
<rect x="421" y="206" width="5" height="22" fill="#32cd32"/>
<rect x="431" y="216" width="1" height="49" fill="#32cd32"/>
<rect x="429" y="227" width="5" height="13" fill="#32cd32"/>
<rect x="439" y="212" width="1" height="41" fill="#32cd32"/>
<rect x="437" y="238" width="5" height="5" fill="#32cd32"/>
<rect x="447" y="226" width="1" height="17" fill="#f00"/>
<rect x="445" y="226" width="5" height="17" fill="#f00"/>
<rect x="446" y="227" width="3" height="15" fill="#ff4500"/>
<rect x="455" y="224" width="1" height="43" fill="#32cd32"/>
<rect x="453" y="227" width="5" height="30" fill="#32cd32"/>
<rect x="463" y="240" width="1" height="44" fill="#f00"/>
<rect x="461" y="253" width="5" height="4" fill="#f00"/>
<rect x="462" y="254" width="3" height="2" fill="#ff4500"/>
<rect x="471" y="216" width="1" height="41" fill="#f00"/>
<rect x="469" y="217" width="5" height="36" fill="#f00"/>
<rect x="470" y="218" width="3" height="34" fill="#ff4500"/>
<rect x="479" y="182" width="1" height="52" fill="#f00"/>
<rect x="477" y="203" width="5" height="15" fill="#f00"/>
<rect x="478" y="204" width="3" height="13" fill="#ff4500"/>
<rect x="487" y="175" width="1" height="47" fill="#32cd32"/>
<rect x="485" y="203" width="5" height="5" fill="#32cd32"/>
<rect x="495" y="201" width="1" height="10" fill="#f00"/>
<rect x="493" y="203" width="5" height="5" fill="#f00"/>
<rect x="494" y="204" width="3" height="3" fill="#ff4500"/>
<rect x="503" y="177" width="1" height="40" fill="#f00"/>
<rect x="501" y="185" width="5" height="27" fill="#f00"/>
<rect x="502" y="186" width="3" height="25" fill="#ff4500"/>
<rect x="511" y="168" width="1" height="35" fill="#32cd32"/>
<rect x="509" y="185" width="5" height="2" fill="#32cd32"/>
<rect x="519" y="184" width="1" height="46" fill="#32cd32"/>
<rect x="517" y="186" width="5" height="33" fill="#32cd32"/>
<rect x="527" y="217" width="1" height="38" fill="#32cd32"/>
<rect x="525" y="217" width="5" height="30" fill="#32cd32"/>
<rect x="535" y="232" width="1" height="52" fill="#f00"/>
<rect x="533" y="234" width="5" height="13" fill="#f00"/>
<rect x="534" y="235" width="3" height="11" fill="#ff4500"/>
<rect x="543" y="221" width="1" height="16" fill="#32cd32"/>
<rect x="541" y="234" width="5" height="3" fill="#32cd32"/>
<rect x="551" y="212" width="1" height="54" fill="#32cd32"/>
<rect x="549" y="235" width="5" height="28" fill="#32cd32"/>
<rect x="559" y="246" width="1" height="34" fill="#f00"/>
<rect x="557" y="254" width="5" height="9" fill="#f00"/>
<rect x="558" y="255" width="3" height="7" fill="#ff4500"/>
<rect x="567" y="248" width="1" height="68" fill="#32cd32"/>
<rect x="565" y="255" width="5" height="55" fill="#32cd32"/>
<rect x="575" y="283" width="1" height="42" fill="#32cd32"/>
<rect x="573" y="309" width="5" height="11" fill="#32cd32"/>
<rect x="583" y="306" width="1" height="37" fill="#f00"/>
<rect x="581" y="310" width="5" height="10" fill="#f00"/>
<rect x="582" y="311" width="3" height="8" fill="#ff4500"/>
<rect x="591" y="295" width="1" height="16" fill="#f00"/>
<rect x="589" y="296" width="5" height="15" fill="#f00"/>
<rect x="590" y="297" width="3" height="13" fill="#ff4500"/>
<rect x="599" y="293" width="1" height="35" fill="#32cd32"/>
<rect x="597" y="301" width="5" height="9" fill="#32cd32"/>
<rect x="607" y="304" width="1" height="33" fill="#32cd32"/>
<rect x="605" y="309" width="5" height="17" fill="#32cd32"/>
<rect x="615" y="323" width="1" height="35" fill="#32cd32"/>
<rect x="613" y="325" width="5" height="21" fill="#32cd32"/>
<rect x="623" y="295" width="1" height="68" fill="#f00"/>
<rect x="621" y="305" width="5" height="41" fill="#f00"/>
<rect x="622" y="306" width="3" height="39" fill="#ff4500"/>
<rect x="631" y="269" width="1" height="51" fill="#32cd32"/>
<rect x="629" y="305" width="5" height="12" fill="#32cd32"/>
<rect x="639" y="310" width="1" height="10" fill="#f00"/>
<rect x="637" y="312" width="5" height="5" fill="#f00"/>
<rect x="638" y="313" width="3" height="3" fill="#ff4500"/>
<rect x="647" y="300" width="1" height="32" fill="#f00"/>
<rect x="645" y="303" width="5" height="6" fill="#f00"/>
<rect x="646" y="304" width="3" height="4" fill="#ff4500"/>
<rect x="655" y="280" width="1" height="30" fill="#f00"/>
<rect x="653" y="293" width="5" height="11" fill="#f00"/>
<rect x="654" y="294" width="3" height="9" fill="#ff4500"/>
<rect x="663" y="242" width="1" height="65" fill="#f00"/>
<rect x="661" y="260" width="5" height="34" fill="#f00"/>
<rect x="662" y="261" width="3" height="32" fill="#ff4500"/>
<rect x="671" y="257" width="1" height="44" fill="#32cd32"/>
<rect x="669" y="260" width="5" height="28" fill="#32cd32"/>
<rect x="679" y="286" width="1" height="62" fill="#32cd32"/>
<rect x="677" y="287" width="5" height="46" fill="#32cd32"/>
<rect x="687" y="328" width="1" height="27" fill="#32cd32"/>
<rect x="685" y="332" width="5" height="11" fill="#32cd32"/>
<rect x="695" y="345" width="1" height="56" fill="#32cd32"/>
<rect x="693" y="353" width="5" height="42" fill="#32cd32"/>
<rect x="703" y="373" width="1" height="42" fill="#f00"/>
<rect x="701" y="376" width="5" height="19" fill="#f00"/>
<rect x="702" y="377" width="3" height="17" fill="#ff4500"/>
<rect x="711" y="335" width="1" height="58" fill="#f00"/>
<rect x="709" y="359" width="5" height="17" fill="#f00"/>
<rect x="710" y="360" width="3" height="15" fill="#ff4500"/>
<rect x="719" y="332" width="1" height="51" fill="#f00"/>
<rect x="717" y="353" width="5" height="7" fill="#f00"/>
<rect x="718" y="354" width="3" height="5" fill="#ff4500"/>
<rect x="727" y="296" width="1" height="64" fill="#f00"/>
<rect x="725" y="306" width="5" height="48" fill="#f00"/>
<rect x="726" y="307" width="3" height="46" fill="#ff4500"/>
<rect x="735" y="291" width="1" height="17" fill="#f00"/>
<rect x="733" y="294" width="5" height="13" fill="#f00"/>
<rect x="734" y="295" width="3" height="11" fill="#ff4500"/>
<rect x="743" y="264" width="1" height="43" fill="#f00"/>
<rect x="741" y="271" width="5" height="22" fill="#f00"/>
<rect x="742" y="272" width="3" height="20" fill="#ff4500"/>
<rect x="751" y="261" width="1" height="53" fill="#32cd32"/>
<rect x="749" y="270" width="5" height="28" fill="#32cd32"/>
<rect x="759" y="288" width="1" height="41" fill="#32cd32"/>
<rect x="757" y="297" width="5" height="11" fill="#32cd32"/>
<rect x="767" y="282" width="1" height="34" fill="#f00"/>
<rect x="765" y="299" width="5" height="9" fill="#f00"/>
<rect x="766" y="300" width="3" height="7" fill="#ff4500"/>
<rect x="775" y="290" width="1" height="52" fill="#32cd32"/>
<rect x="773" y="299" width="5" height="39" fill="#32cd32"/>
<rect x="783" y="336" width="1" height="12" fill="#32cd32"/>
<rect x="781" y="337" width="5" height="10" fill="#32cd32"/>
<rect x="791" y="313" width="1" height="35" fill="#f00"/>
<rect x="789" y="339" width="5" height="4" fill="#f00"/>
<rect x="790" y="340" width="3" height="2" fill="#ff4500"/>
<rect x="799" y="334" width="1" height="38" fill="#32cd32"/>
<rect x="797" y="339" width="5" height="32" fill="#32cd32"/>
<rect x="807" y="362" width="1" height="22" fill="#32cd32"/>
<rect x="805" y="369" width="5" height="11" fill="#32cd32"/>
<rect x="815" y="302" width="1" height="80" fill="#f00"/>
<rect x="813" y="311" width="5" height="69" fill="#f00"/>
<rect x="814" y="312" width="3" height="67" fill="#ff4500"/>
<rect x="823" y="303" width="1" height="50" fill="#32cd32"/>
<rect x="821" y="311" width="5" height="39" fill="#32cd32"/>
<rect x="831" y="347" width="1" height="14" fill="#32cd32"/>
<rect x="829" y="349" width="5" height="10" fill="#32cd32"/>
<rect x="839" y="315" width="1" height="38" fill="#f00"/>
<rect x="837" y="335" width="5" height="10" fill="#f00"/>
<rect x="838" y="336" width="3" height="8" fill="#ff4500"/>
<rect x="847" y="291" width="1" height="50" fill="#f00"/>
<rect x="845" y="333" width="5" height="3" fill="#f00"/>
<rect x="846" y="334" width="3" height="1" fill="#ff4500"/>
<rect x="855" y="326" width="1" height="32" fill="#32cd32"/>
<rect x="853" y="333" width="5" height="6" fill="#32cd32"/>
<rect x="863" y="295" width="1" height="57" fill="#f00"/>
<rect x="861" y="314" width="5" height="25" fill="#f00"/>
<rect x="862" y="315" width="3" height="23" fill="#ff4500"/>
<rect x="871" y="294" width="1" height="35" fill="#f00"/>
<rect x="869" y="309" width="5" height="6" fill="#f00"/>
<rect x="870" y="310" width="3" height="4" fill="#ff4500"/>
<rect x="879" y="288" width="1" height="27" fill="#f00"/>
<rect x="877" y="289" width="5" height="20" fill="#f00"/>
<rect x="878" y="290" width="3" height="18" fill="#ff4500"/>
<rect x="887" y="277" width="1" height="44" fill="#32cd32"/>
<rect x="885" y="304" width="5" height="15" fill="#32cd32"/>
<rect x="895" y="303" width="1" height="51" fill="#32cd32"/>
<rect x="893" y="318" width="5" height="33" fill="#32cd32"/>
<rect x="903" y="315" width="1" height="46" fill="#f00"/>
<rect x="901" y="324" width="5" height="27" fill="#f00"/>
<rect x="902" y="325" width="3" height="25" fill="#ff4500"/>
<rect x="911" y="307" width="1" height="39" fill="#32cd32"/>
<rect x="909" y="324" width="5" height="12" fill="#32cd32"/>
<rect x="919" y="320" width="1" height="62" fill="#32cd32"/>
<rect x="917" y="335" width="5" height="29" fill="#32cd32"/>
<rect x="927" y="359" width="1" height="10" fill="#f00"/>
<rect x="925" y="363" width="5" height="2" fill="#f00"/>
<rect x="935" y="331" width="1" height="32" fill="#f00"/>
<rect x="933" y="342" width="5" height="19" fill="#f00"/>
<rect x="934" y="343" width="3" height="17" fill="#ff4500"/>
<rect x="943" y="301" width="1" height="45" fill="#f00"/>
<rect x="941" y="324" width="5" height="19" fill="#f00"/>
<rect x="942" y="325" width="3" height="17" fill="#ff4500"/>
<rect x="951" y="279" width="1" height="55" fill="#f00"/>
<rect x="949" y="290" width="5" height="35" fill="#f00"/>
<rect x="950" y="291" width="3" height="33" fill="#ff4500"/>
<rect x="959" y="251" width="1" height="74" fill="#32cd32"/>
<rect x="957" y="290" width="5" height="4" fill="#32cd32"/>
<rect x="967" y="251" width="1" height="63" fill="#32cd32"/>
<rect x="965" y="293" width="5" height="3" fill="#32cd32"/>
<rect x="975" y="290" width="1" height="36" fill="#32cd32"/>
<rect x="973" y="294" width="5" height="29" fill="#32cd32"/>
<rect x="983" y="279" width="1" height="46" fill="#f00"/>
<rect x="981" y="296" width="5" height="27" fill="#f00"/>
<rect x="982" y="297" width="3" height="25" fill="#ff4500"/>
<rect x="991" y="289" width="1" height="20" fill="#32cd32"/>
<rect x="989" y="296" width="5" height="9" fill="#32cd32"/>
<rect x="999" y="291" width="1" height="28" fill="#32cd32"/>
<rect x="997" y="298" width="5" height="2" fill="#32cd32"/>
<rect x="1007" y="281" width="1" height="58" fill="#32cd32"/>
<rect x="1005" y="299" width="5" height="4" fill="#32cd32"/>
<rect x="1015" y="259" width="1" height="44" fill="#f00"/>
<rect x="1013" y="281" width="5" height="22" fill="#f00"/>
<rect x="1014" y="282" width="3" height="20" fill="#ff4500"/>
<rect x="1023" y="273" width="1" height="12" fill="#f00"/>
<rect x="1021" y="278" width="5" height="4" fill="#f00"/>
<rect x="1022" y="279" width="3" height="2" fill="#ff4500"/>
<rect x="1031" y="278" width="1" height="3" fill="#32cd32"/>
<rect x="1029" y="279" width="5" height="1" fill="#32cd32"/>
</g>
<g id="objects">

<rect x="957" y="252" width="128" height="1" fill="#ff3030"/>
<rect x="975" y="295" width="128" height="1" fill="#98cb00"/>
<rect x="975" y="340" width="131" height="1" fill="#3c96e6"/>
<path d="M662 245h7v2h-7zM668 246h8v2h-8zM675 247h7v2h-7zM681 248h7v2h-7zM687 249h7v2h-7zM693 250h7v2h-7zM699 251h7v2h-7zM705 252h7v2h-7zM711 253h7v2h-7zM717 254h7v2h-7zM723 255h7v2h-7zM729 256h7v2h-7zM735 257h7v2h-7zM741 258h7v2h-7zM747 259h7v2h-7zM753 260h7v2h-7zM759 261h7v2h-7zM765 262h8v2h-8zM772 263h7v2h-7zM778 264h7v2h-7zM784 265h7v2h-7zM790 266h7v2h-7zM796 267h7v2h-7zM802 268h7v2h-7zM808 269h7v2h-7zM814 270h7v2h-7zM820 271h7v2h-7zM826 272h7v2h-7zM832 273h7v2h-7zM838 274h7v2h-7zM844 275h7v2h-7zM850 276h7v2h-7zM856 277h8v2h-8zM863 278h7v2h-7zM869 279h7v2h-7zM875 280h7v2h-7zM881 281h7v2h-7zM887 282h7v2h-7zM893 283h7v2h-7zM899 284h7v2h-7zM905 285h7v2h-7zM911 286h7v2h-7zM917 287h7v2h-7zM923 288h7v2h-7zM929 289h7v2h-7zM935 290h7v2h-7zM941 291h7v2h-7zM947 292h7v2h-7zM953 293h8v2h-8zM960 294h7v2h-7zM966 295h7v2h-7zM972 296h7v2h-7zM978 297h7v2h-7zM984 298h7v2h-7zM990 299h7v2h-7zM996 300h7v2h-7zM1002 301h7v2h-7zM1008 302h7v2h-7zM1014 303h7v2h-7zM1020 304h7v2h-7zM1026 305h7v2h-7zM1032 306h7v2h-7z" fill="#ff0000"/>
<path d="M703 414h6v2h-6zM708 413h5v2h-5zM712 412h5v2h-5zM716 411h5v2h-5zM720 410h6v2h-6zM725 409h5v2h-5zM729 408h5v2h-5zM733 407h6v2h-6zM738 406h5v2h-5zM742 405h5v2h-5zM746 404h5v2h-5zM750 403h6v2h-6zM755 402h5v2h-5zM759 401h5v2h-5zM763 400h6v2h-6zM768 399h5v2h-5zM772 398h5v2h-5zM776 397h5v2h-5zM780 396h6v2h-6zM785 395h5v2h-5zM789 394h5v2h-5zM793 393h6v2h-6zM798 392h5v2h-5zM802 391h5v2h-5zM806 390h5v2h-5zM810 389h6v2h-6zM815 388h5v2h-5zM819 387h5v2h-5zM823 386h6v2h-6zM828 385h5v2h-5zM832 384h5v2h-5zM836 383h5v2h-5zM840 382h6v2h-6zM845 381h5v2h-5zM849 380h5v2h-5zM853 379h6v2h-6zM858 378h5v2h-5zM862 377h5v2h-5zM866 376h5v2h-5zM870 375h6v2h-6zM875 374h5v2h-5zM879 373h5v2h-5zM883 372h6v2h-6zM888 371h5v2h-5zM892 370h5v2h-5zM896 369h5v2h-5zM900 368h6v2h-6zM905 367h5v2h-5zM909 366h5v2h-5zM913 365h6v2h-6zM918 364h5v2h-5zM922 363h5v2h-5zM926 362h6v2h-6zM931 361h5v2h-5zM935 360h5v2h-5zM939 359h5v2h-5zM943 358h6v2h-6zM948 357h5v2h-5zM952 356h5v2h-5zM956 355h6v2h-6zM961 354h5v2h-5zM965 353h5v2h-5zM969 352h5v2h-5zM973 351h6v2h-6zM978 350h5v2h-5zM982 349h5v2h-5zM986 348h6v2h-6zM991 347h5v2h-5zM995 346h5v2h-5zM999 345h5v2h-5zM1003 344h6v2h-6zM1008 343h5v2h-5zM1012 342h5v2h-5zM1016 341h6v2h-6zM1021 340h5v2h-5zM1025 339h5v2h-5zM1029 338h5v2h-5zM1033 337h6v2h-6zM1038 336h5v2h-5zM1042 335h5v2h-5z" fill="#ff0000"/>

</g>
<g id="macd">
<rect x="6" y="473" width="3" height="7" fill="#c0c0c0"/>
<rect x="14" y="473" width="3" height="4" fill="#c0c0c0"/>
<rect x="22" y="473" width="3" height="4" fill="#c0c0c0"/>
<rect x="30" y="473" width="3" height="4" fill="#c0c0c0"/>
<rect x="38" y="473" width="3" height="11" fill="#c0c0c0"/>
<rect x="46" y="473" width="3" height="18" fill="#c0c0c0"/>
<rect x="54" y="473" width="3" height="23" fill="#c0c0c0"/>
<rect x="62" y="473" width="3" height="24" fill="#c0c0c0"/>
<rect x="70" y="473" width="3" height="24" fill="#c0c0c0"/>
<rect x="78" y="473" width="3" height="29" fill="#c0c0c0"/>
<rect x="86" y="473" width="3" height="41" fill="#c0c0c0"/>
<rect x="94" y="473" width="3" height="50" fill="#c0c0c0"/>
<rect x="102" y="473" width="3" height="62" fill="#c0c0c0"/>
<rect x="110" y="473" width="3" height="70" fill="#c0c0c0"/>
<rect x="118" y="473" width="3" height="73" fill="#c0c0c0"/>
<rect x="126" y="473" width="3" height="70" fill="#c0c0c0"/>
<rect x="134" y="473" width="3" height="64" fill="#c0c0c0"/>
<rect x="142" y="473" width="3" height="53" fill="#c0c0c0"/>
<rect x="150" y="473" width="3" height="41" fill="#c0c0c0"/>
<rect x="158" y="473" width="3" height="36" fill="#c0c0c0"/>
<rect x="166" y="473" width="3" height="25" fill="#c0c0c0"/>
<rect x="174" y="473" width="3" height="13" fill="#c0c0c0"/>
<rect x="182" y="473" width="3" height="2" fill="#c0c0c0"/>
<rect x="190" y="464" width="3" height="9" fill="#c0c0c0"/>
<rect x="198" y="460" width="3" height="13" fill="#c0c0c0"/>
<rect x="206" y="461" width="3" height="12" fill="#c0c0c0"/>
<rect x="214" y="461" width="3" height="12" fill="#c0c0c0"/>
<rect x="222" y="463" width="3" height="10" fill="#c0c0c0"/>
<rect x="230" y="462" width="3" height="11" fill="#c0c0c0"/>
<rect x="238" y="462" width="3" height="11" fill="#c0c0c0"/>
<rect x="246" y="465" width="3" height="8" fill="#c0c0c0"/>
<rect x="254" y="469" width="3" height="4" fill="#c0c0c0"/>
<rect x="262" y="469" width="3" height="4" fill="#c0c0c0"/>
<rect x="270" y="469" width="3" height="4" fill="#c0c0c0"/>
<rect x="278" y="468" width="3" height="5" fill="#c0c0c0"/>
<rect x="286" y="463" width="3" height="10" fill="#c0c0c0"/>
<rect x="294" y="461" width="3" height="12" fill="#c0c0c0"/>
<rect x="302" y="461" width="3" height="12" fill="#c0c0c0"/>
<rect x="310" y="457" width="3" height="16" fill="#c0c0c0"/>
<rect x="318" y="454" width="3" height="19" fill="#c0c0c0"/>
<rect x="326" y="452" width="3" height="21" fill="#c0c0c0"/>
<rect x="334" y="447" width="3" height="26" fill="#c0c0c0"/>
<rect x="342" y="444" width="3" height="29" fill="#c0c0c0"/>
<rect x="350" y="441" width="3" height="32" fill="#c0c0c0"/>
<rect x="358" y="437" width="3" height="36" fill="#c0c0c0"/>
<rect x="366" y="434" width="3" height="39" fill="#c0c0c0"/>
<rect x="374" y="434" width="3" height="39" fill="#c0c0c0"/>
<rect x="382" y="440" width="3" height="33" fill="#c0c0c0"/>
<rect x="390" y="449" width="3" height="24" fill="#c0c0c0"/>
<rect x="398" y="457" width="3" height="16" fill="#c0c0c0"/>
<rect x="406" y="466" width="3" height="7" fill="#c0c0c0"/>
<rect x="414" y="473" width="3" height="2" fill="#c0c0c0"/>
<rect x="422" y="473" width="3" height="11" fill="#c0c0c0"/>
<rect x="430" y="473" width="3" height="19" fill="#c0c0c0"/>
<rect x="438" y="473" width="3" height="25" fill="#c0c0c0"/>
<rect x="446" y="473" width="3" height="28" fill="#c0c0c0"/>
<rect x="454" y="473" width="3" height="34" fill="#c0c0c0"/>
<rect x="462" y="473" width="3" height="38" fill="#c0c0c0"/>
<rect x="470" y="473" width="3" height="36" fill="#c0c0c0"/>
<rect x="478" y="473" width="3" height="32" fill="#c0c0c0"/>
<rect x="486" y="473" width="3" height="30" fill="#c0c0c0"/>
<rect x="494" y="473" width="3" height="27" fill="#c0c0c0"/>
<rect x="502" y="473" width="3" height="22" fill="#c0c0c0"/>
<rect x="510" y="473" width="3" height="19" fill="#c0c0c0"/>
<rect x="518" y="473" width="3" height="19" fill="#c0c0c0"/>
<rect x="526" y="473" width="3" height="23" fill="#c0c0c0"/>
<rect x="534" y="473" width="3" height="25" fill="#c0c0c0"/>
<rect x="542" y="473" width="3" height="25" fill="#c0c0c0"/>
<rect x="550" y="473" width="3" height="28" fill="#c0c0c0"/>
<rect x="558" y="473" width="3" height="30" fill="#c0c0c0"/>
<rect x="566" y="473" width="3" height="37" fill="#c0c0c0"/>
<rect x="574" y="473" width="3" height="43" fill="#c0c0c0"/>
<rect x="582" y="473" width="3" height="47" fill="#c0c0c0"/>
<rect x="590" y="473" width="3" height="47" fill="#c0c0c0"/>
<rect x="598" y="473" width="3" height="49" fill="#c0c0c0"/>
<rect x="606" y="473" width="3" height="51" fill="#c0c0c0"/>
<rect x="614" y="473" width="3" height="55" fill="#c0c0c0"/>
<rect x="622" y="473" width="3" height="52" fill="#c0c0c0"/>
<rect x="630" y="473" width="3" height="51" fill="#c0c0c0"/>
<rect x="638" y="473" width="3" height="49" fill="#c0c0c0"/>
<rect x="646" y="473" width="3" height="46" fill="#c0c0c0"/>
<rect x="654" y="473" width="3" height="42" fill="#c0c0c0"/>
<rect x="662" y="473" width="3" height="35" fill="#c0c0c0"/>
<rect x="670" y="473" width="3" height="31" fill="#c0c0c0"/>
<rect x="678" y="473" width="3" height="34" fill="#c0c0c0"/>
<rect x="686" y="473" width="3" height="37" fill="#c0c0c0"/>
<rect x="694" y="473" width="3" height="44" fill="#c0c0c0"/>
<rect x="702" y="473" width="3" height="48" fill="#c0c0c0"/>
<rect x="710" y="473" width="3" height="48" fill="#c0c0c0"/>
<rect x="718" y="473" width="3" height="47" fill="#c0c0c0"/>
<rect x="726" y="473" width="3" height="41" fill="#c0c0c0"/>
<rect x="734" y="473" width="3" height="33" fill="#c0c0c0"/>
<rect x="742" y="473" width="3" height="24" fill="#c0c0c0"/>
<rect x="750" y="473" width="3" height="20" fill="#c0c0c0"/>
<rect x="758" y="473" width="3" height="18" fill="#c0c0c0"/>
<rect x="766" y="473" width="3" height="15" fill="#c0c0c0"/>
<rect x="774" y="473" width="3" height="17" fill="#c0c0c0"/>
<rect x="782" y="473" width="3" height="20" fill="#c0c0c0"/>
<rect x="790" y="473" width="3" height="21" fill="#c0c0c0"/>
<rect x="798" y="473" width="3" height="25" fill="#c0c0c0"/>
<rect x="806" y="473" width="3" height="29" fill="#c0c0c0"/>
<rect x="814" y="473" width="3" height="24" fill="#c0c0c0"/>
<rect x="822" y="473" width="3" height="24" fill="#c0c0c0"/>
<rect x="830" y="473" width="3" height="25" fill="#c0c0c0"/>
<rect x="838" y="473" width="3" height="22" fill="#c0c0c0"/>
<rect x="846" y="473" width="3" height="20" fill="#c0c0c0"/>
<rect x="854" y="473" width="3" height="19" fill="#c0c0c0"/>
<rect x="862" y="473" width="3" height="15" fill="#c0c0c0"/>
<rect x="870" y="473" width="3" height="11" fill="#c0c0c0"/>
<rect x="878" y="473" width="3" height="5" fill="#c0c0c0"/>
<rect x="886" y="473" width="3" height="4" fill="#c0c0c0"/>
<rect x="894" y="473" width="3" height="7" fill="#c0c0c0"/>
<rect x="902" y="473" width="3" height="7" fill="#c0c0c0"/>
<rect x="910" y="473" width="3" height="7" fill="#c0c0c0"/>
<rect x="918" y="473" width="3" height="10" fill="#c0c0c0"/>
<rect x="926" y="473" width="3" height="14" fill="#c0c0c0"/>
<rect x="934" y="473" width="3" height="13" fill="#c0c0c0"/>
<rect x="942" y="473" width="3" height="11" fill="#c0c0c0"/>
<rect x="950" y="473" width="3" height="5" fill="#c0c0c0"/>
<rect x="958" y="472" width="3" height="1" fill="#c0c0c0"/>
<rect x="966" y="469" width="3" height="4" fill="#c0c0c0"/>
<rect x="974" y="469" width="3" height="4" fill="#c0c0c0"/>
<rect x="982" y="467" width="3" height="6" fill="#c0c0c0"/>
<rect x="990" y="466" width="3" height="7" fill="#c0c0c0"/>
<rect x="998" y="465" width="3" height="8" fill="#c0c0c0"/>
<rect x="1006" y="464" width="3" height="9" fill="#c0c0c0"/>
<rect x="1014" y="462" width="3" height="11" fill="#c0c0c0"/>
<rect x="1022" y="459" width="3" height="14" fill="#c0c0c0"/>
<rect x="1030" y="458" width="3" height="15" fill="#c0c0c0"/>
<path d="M7 479v1M8 479v1M9 479v1M10 479v1M11 479v1M12 478v1M13 478v1M14 478v1M15 478v1M16 478v1M17 478v1M18 478v1M19 478v1M20 478v1M21 477v1M22 477v1M23 477v1M24 477v1M25 477v1M26 477v1M27 477v1M28 477v1M29 477v1M30 477v1M31 477v1M32 477v1M33 477v1M34 477v1M35 477v1M36 477v1M37 477v1M38 477v1M39 477v1M40 478v1M41 478v1M42 478v1M43 478v1M44 478v1M45 479v1M46 479v1M47 479v1M48 479v1M49 479v1M50 480v1M51 480v1M52 480v1M53 481v1M54 481v1M55 481v1M56 481v1M57 482v1M58 482v1M59 482v1M60 482v1M61 483v1M62 483v1M63 483v1M64 483v1M65 484v1M66 484v1M67 484v1M68 484v1M69 484v1M70 485v1M71 485v1M72 485v1M73 485v1M74 486v1M75 486v1M76 486v1M77 487v1M78 487v1M79 487v1M80 488v1M81 488v1M82 489v1M83 489v1M84 490v1M85 490v1M86 491v1M87 491v1M88 492v1M89 493v1M90 493v1M91 494v1M92 495v1M93 496v1M94 496v1M95 497v1M96 498v1M97 499v1M98 500v1M99 501v1M100 501v1M101 502v1M102 503v1M103 504v1M104 505v1M105 506v1M106 506v1M107 507v1M108 508v1M109 509v1M110 510v1M111 510v1M112 511v1M113 512v1M114 513v1M115 513v1M116 514v1M117 515v1M118 515v1M119 516v1M120 517v1M121 517v1M122 518v1M123 519v1M124 519v1M125 520v1M126 521v1M127 521v1M128 522v1M129 522v1M130 523v1M131 523v1M132 524v1M133 524v1M134 525v1M135 525v1M136 526v1M137 526v1M138 527v1M139 527v1M140 527v1M141 528v1M142 528v1M143 529v1M144 529v1M145 529v1M146 529v1M147 529v1M148 529v1M149 530v1M150 530v1M151 530v1M152 530v1M153 530v1M154 530v1M155 530v1M156 530v1M157 530v1M158 530v1M159 530v1M160 530v1M161 529v1M162 529v1M163 529v1M164 528v1M165 528v1M166 528v1M167 527v1M168 527v1M169 526v1M170 526v1M171 525v1M172 524v1M173 524v1M174 523v1M175 523v1M176 522v1M177 521v1M178 520v1M179 519v1M180 518v1M181 517v1M182 516v1M183 515v1M184 514v1M185 513v1M186 512v1M187 511v1M188 510v1M189 508v2M190 507v1M191 506v1M192 505v1M193 504v1M194 502v2M195 501v1M196 500v1M197 499v1M198 497v2M199 496v1M200 495v1M201 494v1M202 493v1M203 492v1M204 490v2M205 489v1M206 488v1M207 487v1M208 486v1M209 485v1M210 484v1M211 483v1M212 482v1M213 481v1M214 480v1M215 479v1M216 479v1M217 478v1M218 477v1M219 477v1M220 476v1M221 475v1M222 475v1M223 474v1M224 473v1M225 473v1M226 472v1M227 472v1M228 471v1M229 470v1M230 470v1M231 469v1M232 469v1M233 468v1M234 468v1M235 468v1M236 467v1M237 467v1M238 466v1M239 466v1M240 466v1M241 465v1M242 465v1M243 465v1M244 465v1M245 464v1M246 464v1M247 464v1M248 464v1M249 464v1M250 463v1M251 463v1M252 463v1M253 463v1M254 463v1M255 463v1M256 463v1M257 463v1M258 463v1M259 463v1M260 463v1M261 463v1M262 463v1M263 463v1M264 463v1M265 463v1M266 463v1M267 464v1M268 464v1M269 464v1M270 464v1M271 464v1M272 465v1M273 465v1M274 465v1M275 465v1M276 465v1M277 465v1M278 465v1M279 465v1M280 465v1M281 465v1M282 465v1M283 465v1M284 465v1M285 466v1M286 466v1M287 466v1M288 466v1M289 466v1M290 466v1M291 465v1M292 465v1M293 465v1M294 465v1M295 465v1M296 465v1M297 465v1M298 465v1M299 465v1M300 465v1M301 465v1M302 465v1M303 465v1M304 465v1M305 465v1M306 465v1M307 465v1M308 465v1M309 465v1M310 465v1M311 465v1M312 464v1M313 464v1M314 464v1M315 464v1M316 464v1M317 463v1M318 463v1M319 463v1M320 463v1M321 462v1M322 462v1M323 462v1M324 462v1M325 461v1M326 461v1M327 461v1M328 461v1M329 460v1M330 460v1M331 460v1M332 460v1M333 459v1M334 459v1M335 459v1M336 459v1M337 458v1M338 458v1M339 457v1M340 457v1M341 456v1M342 456v1M343 455v1M344 455v1M345 455v1M346 454v1M347 454v1M348 453v1M349 453v1M350 453v1M351 452v1M352 452v1M353 451v1M354 451v1M355 451v1M356 450v1M357 450v1M358 450v1M359 449v1M360 449v1M361 448v1M362 448v1M363 448v1M364 447v1M365 447v1M366 447v1M367 446v1M368 446v1M369 446v1M370 445v1M371 445v1M372 445v1M373 444v1M374 444v1M375 444v1M376 443v1M377 443v1M378 443v1M379 443v1M380 443v1M381 443v1M382 443v1M383 443v1M384 442v1M385 442v1M386 442v1M387 442v1M388 442v1M389 442v1M390 442v1M391 442v1M392 442v1M393 442v1M394 442v1M395 442v1M396 442v1M397 442v1M398 442v1M399 442v1M400 442v1M401 443v1M402 443v1M403 443v1M404 444v1M405 444v1M406 444v1M407 445v1M408 445v1M409 446v1M410 446v1M411 446v1M412 447v1M413 447v1M414 448v1M415 448v1M416 449v1M417 449v1M418 450v1M419 450v1M420 451v1M421 452v1M422 452v1M423 453v1M424 454v1M425 454v1M426 455v1M427 456v1M428 457v1M429 458v1M430 458v1M431 459v1M432 460v1M433 461v1M434 461v1M435 462v1M436 463v1M437 464v1M438 465v1M439 465v1M440 466v1M441 467v1M442 468v1M443 468v1M444 469v1M445 470v1M446 471v1M447 472v1M448 472v1M449 473v1M450 474v1M451 475v1M452 476v1M453 477v1M454 478v1M455 479v1M456 479v1M457 480v1M458 481v1M459 482v1M460 483v1M461 484v1M462 484v1M463 485v1M464 486v1M465 487v1M466 488v1M467 488v1M468 489v1M469 490v1M470 491v1M471 492v1M472 492v1M473 493v1M474 493v1M475 494v1M476 494v1M477 495v1M478 495v1M479 496v1M480 496v1M481 496v1M482 497v1M483 497v1M484 498v1M485 498v1M486 499v1M487 499v1M488 500v1M489 500v1M490 500v1M491 500v1M492 501v1M493 501v1M494 501v1M495 501v1M496 502v1M497 502v1M498 502v1M499 502v1M500 502v1M501 502v1M502 502v1M503 502v1M504 502v1M505 502v1M506 502v1M507 502v1M508 502v1M509 502v1M510 502v1M511 502v1M512 501v1M513 501v1M514 501v1M515 501v1M516 500v1M517 500v1M518 500v1M519 500v1M520 499v1M521 499v1M522 499v1M523 499v1M524 499v1M525 499v1M526 499v1M527 499v1M528 498v1M529 498v1M530 498v1M531 498v1M532 498v1M533 498v1M534 498v1M535 498v1M536 497v1M537 497v1M538 497v1M539 497v1M540 497v1M541 496v1M542 496v1M543 496v1M544 496v1M545 496v1M546 496v1M547 496v1M548 496v1M549 496v1M550 496v1M551 496v1M552 496v1M553 496v1M554 496v1M555 496v1M556 496v1M557 496v1M558 496v1M559 496v1M560 496v1M561 496v1M562 496v1M563 496v1M564 496v1M565 497v1M566 497v1M567 497v1M568 497v1M569 497v1M570 497v1M571 498v1M572 498v1M573 498v1M574 498v1M575 498v1M576 499v1M577 499v1M578 500v1M579 500v1M580 501v1M581 501v1M582 502v1M583 502v1M584 503v1M585 503v1M586 504v1M587 504v1M588 504v1M589 505v1M590 505v1M591 506v1M592 506v1M593 506v1M594 507v1M595 507v1M596 507v1M597 508v1M598 508v1M599 509v1M600 509v1M601 509v1M602 510v1M603 510v1M604 510v1M605 511v1M606 511v1M607 511v1M608 512v1M609 512v1M610 512v1M611 513v1M612 513v1M613 514v1M614 514v1M615 514v1M616 515v1M617 515v1M618 515v1M619 516v1M620 516v1M621 517v1M622 517v1M623 517v1M624 518v1M625 518v1M626 518v1M627 518v1M628 519v1M629 519v1M630 519v1M631 519v1M632 520v1M633 520v1M634 520v1M635 520v1M636 520v1M637 520v1M638 520v1M639 520v1M640 521v1M641 521v1M642 521v1M643 521v1M644 521v1M645 521v1M646 521v1M647 521v1M648 521v1M649 521v1M650 521v1M651 521v1M652 521v1M653 521v1M654 521v1M655 521v1M656 521v1M657 520v1M658 520v1M659 520v1M660 520v1M661 520v1M662 519v1M663 519v1M664 519v1M665 519v1M666 519v1M667 518v1M668 518v1M669 518v1M670 518v1M671 518v1M672 517v1M673 517v1M674 517v1M675 517v1M676 517v1M677 516v1M678 516v1M679 516v1M680 516v1M681 515v1M682 515v1M683 515v1M684 515v1M685 514v1M686 514v1M687 514v1M688 514v1M689 514v1M690 513v1M691 513v1M692 513v1M693 513v1M694 513v1M695 513v1M696 513v1M697 513v1M698 513v1M699 513v1M700 513v1M701 513v1M702 513v1M703 513v1M704 513v1M705 513v1M706 512v1M707 512v1M708 512v1M709 512v1M710 512v1M711 512v1M712 512v1M713 512v1M714 512v1M715 512v1M716 512v1M717 512v1M718 513v1M719 513v1M720 513v1M721 513v1M722 512v1M723 512v1M724 512v1M725 512v1M726 512v1M727 512v1M728 512v1M729 512v1M730 512v1M731 512v1M732 512v1M733 512v1M734 512v1M735 512v1M736 511v1M737 511v1M738 511v1M739 511v1M740 511v1M741 511v1M742 511v1M743 511v1M744 510v1M745 510v1M746 510v1M747 510v1M748 510v1M749 510v1M750 510v1M751 510v1M752 509v1M753 509v1M754 509v1M755 509v1M756 508v1M757 508v1M758 508v1M759 508v1M760 507v1M761 507v1M762 506v1M763 506v1M764 506v1M765 505v1M766 505v1M767 504v1M768 504v1M769 503v1M770 503v1M771 502v1M772 502v1M773 501v1M774 501v1M775 500v1M776 500v1M777 499v1M778 499v1M779 499v1M780 498v1M781 498v1M782 498v1M783 497v1M784 497v1M785 496v1M786 496v1M787 496v1M788 495v1M789 495v1M790 495v1M791 494v1M792 494v1M793 494v1M794 494v1M795 493v1M796 493v1M797 493v1M798 493v1M799 493v1M800 493v1M801 493v1M802 493v1M803 493v1M804 493v1M805 493v1M806 493v1M807 493v1M808 493v1M809 493v1M810 493v1M811 493v1M812 493v1M813 493v1M814 493v1M815 493v1M816 493v1M817 493v1M818 493v1M819 493v1M820 493v1M821 493v1M822 493v1M823 493v1M824 493v1M825 493v1M826 493v1M827 493v1M828 493v1M829 494v1M830 494v1M831 494v1M832 494v1M833 494v1M834 494v1M835 494v1M836 494v1M837 495v1M838 495v1M839 495v1M840 495v1M841 495v1M842 495v1M843 495v1M844 495v1M845 495v1M846 495v1M847 495v1M848 495v1M849 495v1M850 495v1M851 495v1M852 495v1M853 495v1M854 495v1M855 495v1M856 495v1M857 495v1M858 494v1M859 494v1M860 494v1M861 494v1M862 494v1M863 494v1M864 494v1M865 494v1M866 493v1M867 493v1M868 493v1M869 493v1M870 493v1M871 493v1M872 492v1M873 492v1M874 492v1M875 491v1M876 491v1M877 490v1M878 490v1M879 490v1M880 489v1M881 489v1M882 489v1M883 488v1M884 488v1M885 488v1M886 487v1M887 487v1M888 487v1M889 487v1M890 486v1M891 486v1M892 486v1M893 486v1M894 485v1M895 485v1M896 485v1M897 485v1M898 485v1M899 484v1M900 484v1M901 484v1M902 484v1M903 484v1M904 483v1M905 483v1M906 483v1M907 483v1M908 483v1M909 483v1M910 483v1M911 483v1M912 482v1M913 482v1M914 482v1M915 482v1M916 482v1M917 482v1M918 482v1M919 482v1M920 482v1M921 482v1M922 481v1M923 481v1M924 481v1M925 481v1M926 481v1M927 481v1M928 481v1M929 481v1M930 481v1M931 481v1M932 481v1M933 481v1M934 481v1M935 481v1M936 481v1M937 481v1M938 481v1M939 481v1M940 481v1M941 481v1M942 481v1M943 481v1M944 481v1M945 481v1M946 481v1M947 481v1M948 481v1M949 481v1M950 481v1M951 481v1M952 480v1M953 480v1M954 480v1M955 480v1M956 480v1M957 480v1M958 480v1M959 480v1M960 479v1M961 479v1M962 479v1M963 479v1M964 479v1M965 479v1M966 478v1M967 478v1M968 478v1M969 478v1M970 478v1M971 478v1M972 478v1M973 478v1M974 478v1M975 478v1M976 477v1M977 477v1M978 477v1M979 477v1M980 477v1M981 477v1M982 476v1M983 476v1M984 476v1M985 476v1M986 476v1M987 475v1M988 475v1M989 475v1M990 475v1M991 475v1M992 474v1M993 474v1M994 474v1M995 473v1M996 473v1M997 472v1M998 472v1M999 472v1M1000 471v1M1001 471v1M1002 471v1M1003 471v1M1004 471v1M1005 470v1M1006 470v1M1007 470v1M1008 470v1M1009 469v1M1010 469v1M1011 469v1M1012 469v1M1013 469v1M1014 468v1M1015 468v1M1016 468v1M1017 468v1M1018 467v1M1019 467v1M1020 467v1M1021 466v1M1022 466v1M1023 466v1M1024 466v1M1025 465v1M1026 465v1M1027 465v1M1028 464v1M1029 464v1M1030 464v1M1031 464v1" fill="none" stroke="#ff0000" stroke-width="1" transform="translate(0.5 0)" shape-rendering="crispEdges"/>
</g>
<g id="frame">

<rect x="6.5" y="30.5" width="1301" height="395" fill="none" stroke="#000"/>
<rect x="6.5" y="427.5" width="1301" height="124" fill="none" stroke="#000"/>

</g>
<g id="axis">
<rect x="1308" y="59" width="2" height="1" fill="#000"/>
<text x="1313.3" y="63" font-size="9.8" fill="#000" text-rendering="geometricPrecision" textLength="32.4" lengthAdjust="spacingAndGlyphs" stroke="#000" stroke-width="0.15">1.17990</text>
<rect x="1308" y="92" width="2" height="1" fill="#000"/>
<text x="1313.3" y="96" font-size="9.8" fill="#000" text-rendering="geometricPrecision" textLength="32.4" lengthAdjust="spacingAndGlyphs" stroke="#000" stroke-width="0.15">1.17450</text>
<rect x="1308" y="125" width="2" height="1" fill="#000"/>
<text x="1313.3" y="129" font-size="9.8" fill="#000" text-rendering="geometricPrecision" textLength="32.4" lengthAdjust="spacingAndGlyphs" stroke="#000" stroke-width="0.15">1.16910</text>
<rect x="1308" y="158" width="2" height="1" fill="#000"/>
<text x="1313.3" y="162" font-size="9.8" fill="#000" text-rendering="geometricPrecision" textLength="32.4" lengthAdjust="spacingAndGlyphs" stroke="#000" stroke-width="0.15">1.16370</text>
<rect x="1308" y="191" width="2" height="1" fill="#000"/>
<text x="1313.3" y="195" font-size="9.8" fill="#000" text-rendering="geometricPrecision" textLength="32.4" lengthAdjust="spacingAndGlyphs" stroke="#000" stroke-width="0.15">1.15830</text>
<rect x="1308" y="224" width="2" height="1" fill="#000"/>
<text x="1313.3" y="228" font-size="9.8" fill="#000" text-rendering="geometricPrecision" textLength="32.4" lengthAdjust="spacingAndGlyphs" stroke="#000" stroke-width="0.15">1.15290</text>
<rect x="1308" y="257" width="2" height="1" fill="#000"/>
<text x="1313.3" y="261" font-size="9.8" fill="#000" text-rendering="geometricPrecision" textLength="32.4" lengthAdjust="spacingAndGlyphs" stroke="#000" stroke-width="0.15">1.14750</text>
<rect x="1308" y="290" width="2" height="1" fill="#000"/>
<text x="1313.3" y="294" font-size="9.8" fill="#000" text-rendering="geometricPrecision" textLength="32.4" lengthAdjust="spacingAndGlyphs" stroke="#000" stroke-width="0.15">1.14195</text>
<rect x="1308" y="323" width="2" height="1" fill="#000"/>
<text x="1313.3" y="327" font-size="9.8" fill="#000" text-rendering="geometricPrecision" textLength="32.4" lengthAdjust="spacingAndGlyphs" stroke="#000" stroke-width="0.15">1.13655</text>
<rect x="1308" y="356" width="2" height="1" fill="#000"/>
<text x="1313.3" y="360" font-size="9.8" fill="#000" text-rendering="geometricPrecision" textLength="32.4" lengthAdjust="spacingAndGlyphs" stroke="#000" stroke-width="0.15">1.13115</text>
<rect x="1308" y="389" width="2" height="1" fill="#000"/>
<text x="1313.3" y="393" font-size="9.8" fill="#000" text-rendering="geometricPrecision" textLength="32.4" lengthAdjust="spacingAndGlyphs" stroke="#000" stroke-width="0.15">1.12575</text>
<rect x="1308" y="422" width="2" height="1" fill="#000"/>
<text x="1313.3" y="426" font-size="9.8" fill="#000" text-rendering="geometricPrecision" textLength="32.4" lengthAdjust="spacingAndGlyphs" stroke="#000" stroke-width="0.15">1.12035</text>
<rect x="1309" y="274" width="41" height="11" fill="#000"/>
<text x="1313.3" y="283" font-size="9.8" fill="#fff" text-rendering="geometricPrecision" textLength="32.4" lengthAdjust="spacingAndGlyphs" stroke="#fff" stroke-width="0.15">1.14382</text>
<rect x="1308" y="429" width="2" height="1" fill="#000"/>
<text x="1310.8" y="438" font-size="9.8" fill="#000" text-rendering="geometricPrecision" textLength="38" lengthAdjust="spacingAndGlyphs" stroke="#000" stroke-width="0.15">0.005074</text>
<rect x="1308" y="473" width="2" height="1" fill="#000"/>
<text x="1310.8" y="477" font-size="9.8" fill="#000" text-rendering="geometricPrecision" textLength="18" lengthAdjust="spacingAndGlyphs" stroke="#000" stroke-width="0.15">0.00</text>
<rect x="1308" y="550" width="2" height="1" fill="#000"/>
<text x="1310.8" y="548" font-size="9.8" fill="#000" text-rendering="geometricPrecision" textLength="36" lengthAdjust="spacingAndGlyphs" stroke="#000" stroke-width="0.15">-0.00873</text>
<rect x="7" y="552" width="1" height="3" fill="#000"/>
<text x="5.8" y="564" font-size="9.8" fill="#000" text-rendering="geometricPrecision" textLength="46.7" lengthAdjust="spacingAndGlyphs" stroke="#000" stroke-width="0.15">27 Jul 2018</text>
<rect x="71" y="552" width="1" height="3" fill="#000"/>
<text x="69.8" y="564" font-size="9.8" fill="#000" text-rendering="geometricPrecision" textLength="46.7" lengthAdjust="spacingAndGlyphs" stroke="#000" stroke-width="0.15">8 Aug 2018</text>
<rect x="135" y="552" width="1" height="3" fill="#000"/>
<text x="133.8" y="564" font-size="9.8" fill="#000" text-rendering="geometricPrecision" textLength="51.7" lengthAdjust="spacingAndGlyphs" stroke="#000" stroke-width="0.15">20 Aug 2018</text>
<rect x="199" y="552" width="1" height="3" fill="#000"/>
<text x="197.8" y="564" font-size="9.8" fill="#000" text-rendering="geometricPrecision" textLength="51.7" lengthAdjust="spacingAndGlyphs" stroke="#000" stroke-width="0.15">30 Aug 2018</text>
<rect x="263" y="552" width="1" height="3" fill="#000"/>
<text x="261.8" y="564" font-size="9.8" fill="#000" text-rendering="geometricPrecision" textLength="50.7" lengthAdjust="spacingAndGlyphs" stroke="#000" stroke-width="0.15">10 Sep 2018</text>
<rect x="327" y="552" width="1" height="3" fill="#000"/>
<text x="325.8" y="564" font-size="9.8" fill="#000" text-rendering="geometricPrecision" textLength="50.7" lengthAdjust="spacingAndGlyphs" stroke="#000" stroke-width="0.15">19 Sep 2018</text>
<rect x="391" y="552" width="1" height="3" fill="#000"/>
<text x="389.8" y="564" font-size="9.8" fill="#000" text-rendering="geometricPrecision" textLength="50.7" lengthAdjust="spacingAndGlyphs" stroke="#000" stroke-width="0.15">28 Sep 2018</text>
<rect x="455" y="552" width="1" height="3" fill="#000"/>
<text x="453.8" y="564" font-size="9.8" fill="#000" text-rendering="geometricPrecision" textLength="44.7" lengthAdjust="spacingAndGlyphs" stroke="#000" stroke-width="0.15">8 Oct 2018</text>
<rect x="519" y="552" width="1" height="3" fill="#000"/>
<text x="517.8" y="564" font-size="9.8" fill="#000" text-rendering="geometricPrecision" textLength="49.7" lengthAdjust="spacingAndGlyphs" stroke="#000" stroke-width="0.15">17 Oct 2018</text>
<rect x="583" y="552" width="1" height="3" fill="#000"/>
<text x="581.8" y="564" font-size="9.8" fill="#000" text-rendering="geometricPrecision" textLength="49.7" lengthAdjust="spacingAndGlyphs" stroke="#000" stroke-width="0.15">26 Oct 2018</text>
<rect x="647" y="552" width="1" height="3" fill="#000"/>
<text x="645.8" y="564" font-size="9.8" fill="#000" text-rendering="geometricPrecision" textLength="46.7" lengthAdjust="spacingAndGlyphs" stroke="#000" stroke-width="0.15">5 Nov 2018</text>
<rect x="711" y="552" width="1" height="3" fill="#000"/>
<text x="709.8" y="564" font-size="9.8" fill="#000" text-rendering="geometricPrecision" textLength="51.7" lengthAdjust="spacingAndGlyphs" stroke="#000" stroke-width="0.15">14 Nov 2018</text>
<rect x="775" y="552" width="1" height="3" fill="#000"/>
<text x="773.8" y="564" font-size="9.8" fill="#000" text-rendering="geometricPrecision" textLength="51.7" lengthAdjust="spacingAndGlyphs" stroke="#000" stroke-width="0.15">23 Nov 2018</text>
<rect x="839" y="552" width="1" height="3" fill="#000"/>
<text x="837.8" y="564" font-size="9.8" fill="#000" text-rendering="geometricPrecision" textLength="45.7" lengthAdjust="spacingAndGlyphs" stroke="#000" stroke-width="0.15">3 Dec 2018</text>
<rect x="903" y="552" width="1" height="3" fill="#000"/>
<text x="901.8" y="564" font-size="9.8" fill="#000" text-rendering="geometricPrecision" textLength="50.7" lengthAdjust="spacingAndGlyphs" stroke="#000" stroke-width="0.15">12 Dec 2018</text>
<rect x="967" y="552" width="1" height="3" fill="#000"/>
<text x="965.8" y="564" font-size="9.8" fill="#000" text-rendering="geometricPrecision" textLength="50.7" lengthAdjust="spacingAndGlyphs" stroke="#000" stroke-width="0.15">21 Dec 2018</text>
<rect x="1031" y="552" width="1" height="3" fill="#000"/>
<text x="1029.8" y="564" font-size="9.8" fill="#000" text-rendering="geometricPrecision" textLength="50.7" lengthAdjust="spacingAndGlyphs" stroke="#000" stroke-width="0.15">31 Dec 2018</text>
</g>
<g id="labels">
<path d="M10 41 L13.5 37.5 L17 41 Z" fill="#000"/>
<text x="22.4" y="42" font-size="9.8" fill="#000" text-rendering="geometricPrecision" textLength="63.8" lengthAdjust="spacingAndGlyphs" stroke="#000" stroke-width="0.15">EURUSD,Daily</text>
<text x="92.3" y="42" font-size="9.8" fill="#000" text-rendering="geometricPrecision" textLength="140.8" lengthAdjust="spacingAndGlyphs" stroke="#000" stroke-width="0.15">1.14386 1.14398 1.14372 1.14382</text>
<text x="11" y="440.2" font-size="9.8" fill="#000" text-rendering="geometricPrecision" textLength="66.4" lengthAdjust="spacingAndGlyphs" stroke="#000" stroke-width="0.15">MACD(12,26,9)</text>
<text x="80.2" y="440.2" font-size="9.8" fill="#000" text-rendering="geometricPrecision" textLength="37.8" lengthAdjust="spacingAndGlyphs" stroke="#000" stroke-width="0.15">0.001771</text>
<text x="120.5" y="440.2" font-size="9.8" fill="#000" text-rendering="geometricPrecision" textLength="38.2" lengthAdjust="spacingAndGlyphs" stroke="#000" stroke-width="0.15">0.001029</text>
</g>
</svg>
<svg id="trade" width="1355" height="599" viewBox="0 0 1355 599" font-family='"Liberation Sans", sans-serif'>
<defs>
<linearGradient id="pg" gradientUnits="userSpaceOnUse" x1="0" y1="50" x2="0" y2="114">
<stop offset="0" stop-color="#fc5050"/><stop offset="0.375" stop-color="#de2e2e"/><stop offset="1" stop-color="#a80000"/>
</linearGradient>
<linearGradient id="bg" x1="0" y1="0" x2="0" y2="1">
<stop offset="0" stop-color="#efefef"/><stop offset="0.5" stop-color="#e0e0e0"/><stop offset="0.5" stop-color="#d2d2d2"/><stop offset="1" stop-color="#cacaca"/>
</linearGradient>
</defs>
<g shape-rendering="crispEdges">
<rect x="8" y="48" width="223" height="68" fill="#fff"/>
<path d="M10 50H62V74H119V114H10Z" fill="url(#pg)"/>
<path d="M177 50H229V114H121V74H177Z" fill="url(#pg)"/>
<path d="M10.5 113.5V50.5H61.5V74" fill="none" stroke="#a00000" stroke-opacity="0.75"/>
<path d="M118.5 74V113.5" fill="none" stroke="#a00000" stroke-opacity="0.6"/>
<path d="M121.5 74V113.5" fill="none" stroke="#a00000" stroke-opacity="0.6"/>
<path d="M177.5 74V50.5H228.5V113.5" fill="none" stroke="#a00000" stroke-opacity="0.75"/>
<rect x="14" y="73" width="44" height="1" fill="#8a0000"/><rect x="14" y="74" width="44" height="1" fill="#f06464"/>
<rect x="181" y="73" width="44" height="1" fill="#8a0000"/><rect x="181" y="74" width="44" height="1" fill="#f06464"/>
<rect x="64.5" y="50.5" width="110" height="21" fill="#fff" stroke="#a6a6a6"/>
<rect x="65.5" y="51.5" width="19" height="19" fill="url(#bg)" stroke="#dcdcdc"/>
<rect x="85" y="51" width="1" height="20" fill="#b4b4b4"/>
<rect x="154.5" y="51.5" width="19" height="19" fill="url(#bg)" stroke="#dcdcdc"/>
<rect x="153" y="51" width="1" height="20" fill="#b4b4b4"/>
</g>
<path d="M71.5 59H77.5L74.5 62Z" fill="#4a5fc4"/>
<path d="M160.5 62H166.5L163.5 59Z" fill="#4a5fc4"/>
<text x="21.6" y="66" font-size="12.6" fill="#fff" textLength="26.6" lengthAdjust="spacingAndGlyphs">SELL</text>
<text x="189.6" y="66" font-size="12.6" fill="#fff" textLength="24.6" lengthAdjust="spacingAndGlyphs">BUY</text>
<text x="125.4" y="64.8" font-size="12" fill="#000" textLength="24.6" lengthAdjust="spacingAndGlyphs">0.01</text>
<text x="30" y="104.7" font-size="12" fill="#fff" textLength="24" lengthAdjust="spacingAndGlyphs" font-weight="bold" stroke="#fff" stroke-width="0.3">1.14</text>
<text x="140" y="104.7" font-size="12" fill="#fff" textLength="24" lengthAdjust="spacingAndGlyphs" font-weight="bold" stroke="#fff" stroke-width="0.3">1.14</text>
<text x="57" y="105" font-size="34.4" fill="#fff" textLength="36.2" lengthAdjust="spacingAndGlyphs" stroke="url(#pg)" stroke-width="0.5">38</text>
<text x="166.4" y="105" font-size="34.4" fill="#fff" textLength="37.4" lengthAdjust="spacingAndGlyphs" stroke="url(#pg)" stroke-width="0.5">40</text>
<text x="96.7" y="88.7" font-size="11.2" fill="#fff" textLength="7.3" lengthAdjust="spacingAndGlyphs" font-weight="bold" stroke="#fff" stroke-width="0.3">2</text>
<text x="207.6" y="88.7" font-size="11.2" fill="#fff" textLength="7.3" lengthAdjust="spacingAndGlyphs" font-weight="bold" stroke="#fff" stroke-width="0.3">4</text>
</svg>
</div>
<div id="tabs">
<svg id="tabsvg" width="1355" height="27" viewBox="0 0 1355 27" font-family='"Liberation Sans", sans-serif' shape-rendering="crispEdges">
<rect x="0" y="0" width="1355" height="27" fill="#f0f0f0"/>
<rect x="4" y="0" width="1349" height="2" fill="#fff"/>
<rect x="4" y="0" width="1349" height="1" fill="#e8e8e8"/>
<rect x="2" y="0" width="1" height="21" fill="#a4a4a4"/>
<rect x="3" y="0" width="1" height="21" fill="#696969"/>
<rect x="2" y="2" width="1353" height="1" fill="#000"/>
<rect x="9" y="2" width="102" height="18" fill="#fff"/>
<rect x="8" y="2" width="1" height="19" fill="#000"/>
<rect x="8" y="20" width="104" height="1" fill="#000"/>
<rect x="111" y="2" width="1" height="19" fill="#000"/>
<rect x="5" y="3" width="2" height="18" fill="#f8f8f8"/>
<rect x="216" y="6" width="1" height="13" fill="#6a6a6a"/><rect x="304" y="6" width="1" height="13" fill="#6a6a6a"/><rect x="396" y="6" width="1" height="13" fill="#6a6a6a"/><rect x="488" y="6" width="1" height="13" fill="#6a6a6a"/><rect x="572" y="6" width="1" height="13" fill="#6a6a6a"/><rect x="677" y="6" width="1" height="13" fill="#6a6a6a"/><rect x="776" y="6" width="1" height="13" fill="#6a6a6a"/><rect x="852" y="6" width="1" height="13" fill="#6a6a6a"/>
<text x="19.8" y="17" font-size="12.5" fill="#000" text-rendering="geometricPrecision" textLength="80.7" lengthAdjust="spacingAndGlyphs">EURUSD,Daily</text><text x="122.5" y="17" font-size="12.5" fill="#6e6e6e" text-rendering="geometricPrecision" textLength="82.4" lengthAdjust="spacingAndGlyphs">AUDUSD,Daily</text><text x="225.5" y="17" font-size="12.5" fill="#6e6e6e" text-rendering="geometricPrecision" textLength="67.5" lengthAdjust="spacingAndGlyphs">USDCHF,H4</text><text x="314.5" y="17" font-size="12.5" fill="#6e6e6e" text-rendering="geometricPrecision" textLength="69.2" lengthAdjust="spacingAndGlyphs">USDCAD,H4</text><text x="406" y="17" font-size="12.5" fill="#6e6e6e" text-rendering="geometricPrecision" textLength="70.8" lengthAdjust="spacingAndGlyphs">USDCNH,H4</text><text x="497.7" y="17" font-size="12.5" fill="#6e6e6e" text-rendering="geometricPrecision" textLength="63.1" lengthAdjust="spacingAndGlyphs">USDJPY,H4</text><text x="583.1" y="17" font-size="12.5" fill="#6e6e6e" text-rendering="geometricPrecision" textLength="81.4" lengthAdjust="spacingAndGlyphs">XAUUSD,Daily</text><text x="686.8" y="17" font-size="12.5" fill="#6e6e6e" text-rendering="geometricPrecision" textLength="78.4" lengthAdjust="spacingAndGlyphs">GBPUSD,M15</text><text x="786.5" y="17" font-size="12.5" fill="#6e6e6e" text-rendering="geometricPrecision" textLength="54.5" lengthAdjust="spacingAndGlyphs">SP500,H1</text>
<path d="M1326.2 8 L1326.2 14.4 L1322.8 11.2 Z" fill="#9a9a9a" shape-rendering="geometricPrecision"/>
<path d="M1342 8 L1342 14.4 L1345.4 11.2 Z" fill="#9a9a9a" shape-rendering="geometricPrecision"/>
<rect x="1353" y="3" width="1" height="19" fill="#f6f6f6"/>
<rect x="0" y="22" width="1355" height="4" fill="#fcfcfc"/>
<rect x="0" y="26" width="1352" height="1" fill="#a0a0a0"/>
</svg>
</div>
</body>
</html>
